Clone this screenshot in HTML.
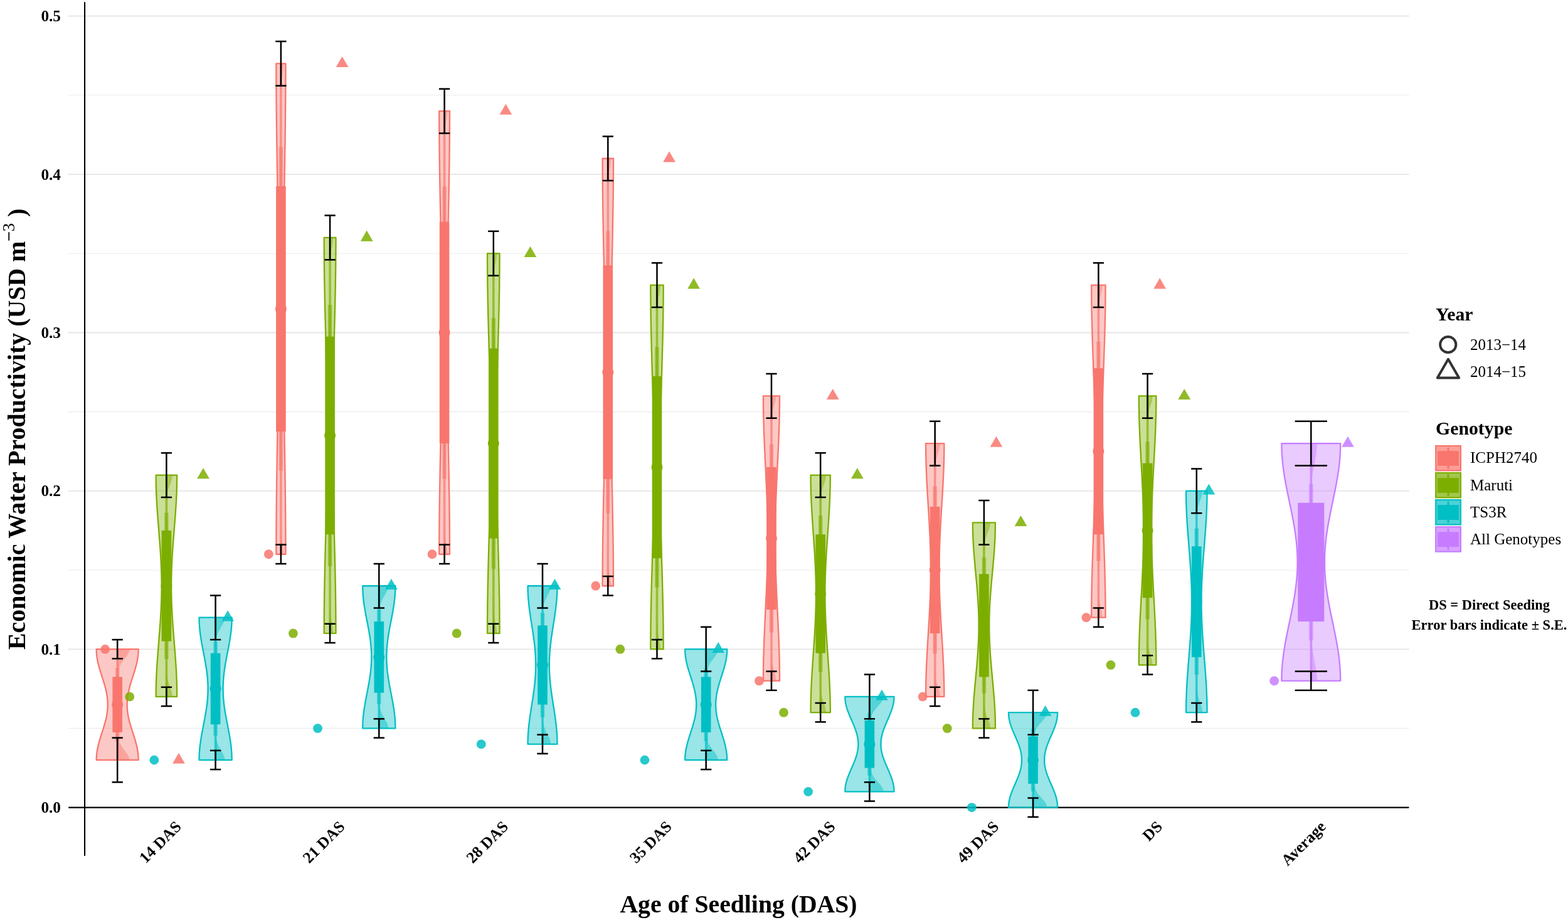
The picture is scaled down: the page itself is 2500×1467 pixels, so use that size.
<!DOCTYPE html>
<html><head><meta charset="utf-8"><title>Economic Water Productivity</title>
<style>html,body{margin:0;padding:0;background:#fff;overflow:hidden}svg{display:block}</style>
</head><body>
<svg width="2500" height="1467" viewBox="0 0 2500 1467">
<rect x="0" y="0" width="2500" height="1467" fill="#FFFFFF"/>
<line x1="109.0" x2="2246.7" y1="1161.4" y2="1161.4" stroke="#EBEBEB" stroke-width="1.1"/>
<line x1="109.0" x2="2246.7" y1="909" y2="909" stroke="#EBEBEB" stroke-width="1.1"/>
<line x1="109.0" x2="2246.7" y1="656.6" y2="656.6" stroke="#EBEBEB" stroke-width="1.1"/>
<line x1="109.0" x2="2246.7" y1="404.2" y2="404.2" stroke="#EBEBEB" stroke-width="1.1"/>
<line x1="109.0" x2="2246.7" y1="151.8" y2="151.8" stroke="#EBEBEB" stroke-width="1.1"/>
<line x1="109.0" x2="2246.7" y1="1035.2" y2="1035.2" stroke="#E8E8E8" stroke-width="2.1"/>
<line x1="109.0" x2="2246.7" y1="782.8" y2="782.8" stroke="#E8E8E8" stroke-width="2.1"/>
<line x1="109.0" x2="2246.7" y1="530.4" y2="530.4" stroke="#E8E8E8" stroke-width="2.1"/>
<line x1="109.0" x2="2246.7" y1="278" y2="278" stroke="#E8E8E8" stroke-width="2.1"/>
<line x1="109.0" x2="2246.7" y1="25.6" y2="25.6" stroke="#E8E8E8" stroke-width="2.1"/>
<line x1="110.0" x2="2245.7" y1="1287.6" y2="1287.6" stroke="#000" stroke-width="2.1" stroke-linecap="round"/>
<line x1="135.05" x2="135.05" y1="4" y2="1364" stroke="#000" stroke-width="2.1" stroke-linecap="round"/>
<path d="M220.7,1211.88 L220.67,1208.94 L220.53,1205.99 L220.29,1203.05 L219.95,1200.1 L219.52,1197.16 L219,1194.21 L218.39,1191.27 L217.72,1188.32 L216.97,1185.38 L216.17,1182.43 L215.31,1179.49 L214.42,1176.54 L213.5,1173.6 L212.56,1170.65 L211.61,1167.71 L210.67,1164.77 L209.74,1161.82 L208.83,1158.88 L207.95,1155.93 L207.11,1152.99 L206.33,1150.04 L205.6,1147.1 L204.94,1144.15 L204.36,1141.21 L203.85,1138.26 L203.43,1135.32 L203.1,1132.37 L202.86,1129.43 L202.72,1126.48 L202.67,1123.54 L202.72,1120.6 L202.86,1117.65 L203.1,1114.71 L203.43,1111.76 L203.85,1108.82 L204.36,1105.87 L204.94,1102.93 L205.6,1099.98 L206.33,1097.04 L207.11,1094.09 L207.95,1091.15 L208.83,1088.2 L209.74,1085.26 L210.67,1082.31 L211.61,1079.37 L212.56,1076.43 L213.5,1073.48 L214.42,1070.54 L215.31,1067.59 L216.17,1064.65 L216.97,1061.7 L217.72,1058.76 L218.39,1055.81 L219,1052.87 L219.52,1049.92 L219.95,1046.98 L220.29,1044.03 L220.53,1041.09 L220.67,1038.14 L220.7,1035.2 L153.7,1035.2 L153.73,1038.14 L153.87,1041.09 L154.11,1044.03 L154.45,1046.98 L154.88,1049.92 L155.4,1052.87 L156.01,1055.81 L156.68,1058.76 L157.43,1061.7 L158.23,1064.65 L159.09,1067.59 L159.98,1070.54 L160.9,1073.48 L161.84,1076.43 L162.79,1079.37 L163.73,1082.31 L164.66,1085.26 L165.57,1088.2 L166.45,1091.15 L167.29,1094.09 L168.07,1097.04 L168.8,1099.98 L169.46,1102.93 L170.04,1105.87 L170.55,1108.82 L170.97,1111.76 L171.3,1114.71 L171.54,1117.65 L171.68,1120.6 L171.73,1123.54 L171.68,1126.48 L171.54,1129.43 L171.3,1132.37 L170.97,1135.32 L170.55,1138.26 L170.04,1141.21 L169.46,1144.15 L168.8,1147.1 L168.07,1150.04 L167.29,1152.99 L166.45,1155.93 L165.57,1158.88 L164.66,1161.82 L163.73,1164.77 L162.79,1167.71 L161.84,1170.65 L160.9,1173.6 L159.98,1176.54 L159.09,1179.49 L158.23,1182.43 L157.43,1185.38 L156.68,1188.32 L156.01,1191.27 L155.4,1194.21 L154.88,1197.16 L154.45,1200.1 L154.11,1203.05 L153.87,1205.99 L153.73,1208.94 L153.7,1211.88 Z" fill="#F8766D" fill-opacity="0.4" stroke="#F8766D" stroke-width="2.3" stroke-linejoin="round"/>
<path d="M187.2,1211.88 L206.29,1211.88 L205.94,1208.94 L204.9,1205.99 L203.31,1203.05 L201.31,1200.1 L199.1,1197.16 L196.87,1194.21 L194.76,1191.27 L192.89,1188.32 L191.33,1185.38 L190.08,1182.43 L189.14,1179.49 L188.46,1176.54 L187.98,1173.6 L187.67,1170.65 L187.47,1167.71 L187.35,1164.77 L187.28,1161.82 L187.24,1158.88 L187.22,1155.93 L187.21,1152.99 L187.2,1150.04 L187.2,1147.1 L187.2,1144.15 L187.2,1141.21 L187.2,1138.26 L187.2,1135.32 L187.2,1132.37 L187.2,1129.43 L187.2,1126.48 L187.2,1123.54 L187.2,1120.6 L187.2,1117.65 L187.2,1114.71 L187.2,1111.76 L187.2,1108.82 L187.2,1105.87 L187.2,1102.93 L187.2,1099.98 L187.2,1097.04 L187.21,1094.09 L187.22,1091.15 L187.24,1088.2 L187.28,1085.26 L187.35,1082.31 L187.47,1079.37 L187.67,1076.43 L187.98,1073.48 L188.46,1070.54 L189.14,1067.59 L190.08,1064.65 L191.33,1061.7 L192.89,1058.76 L194.76,1055.81 L196.87,1052.87 L199.1,1049.92 L201.31,1046.98 L203.31,1044.03 L204.9,1041.09 L205.94,1038.14 L206.29,1035.2 L187.2,1035.2 Z" fill="#F8766D" fill-opacity="0.45"/>
<line x1="187.2" x2="187.2" y1="1036.2" y2="1210.88" stroke="#F8766D" stroke-opacity="0.7" stroke-width="3.6"/>
<line x1="187.2" x2="187.2" y1="1065.24" y2="1181.84" stroke="#F8766D" stroke-opacity="0.55" stroke-width="6.5"/>
<circle cx="187.2" cy="1123.54" r="9" fill="#F8766D"/>
<rect x="179.4" y="1079.37" width="15.6" height="88.34" fill="#F8766D"/>
<path d="M282.15,1110.92 L282.13,1105.03 L282.06,1099.14 L281.94,1093.25 L281.78,1087.36 L281.56,1081.47 L281.3,1075.58 L281,1069.69 L280.66,1063.81 L280.28,1057.92 L279.88,1052.03 L279.46,1046.14 L279.01,1040.25 L278.55,1034.36 L278.08,1028.47 L277.61,1022.58 L277.13,1016.69 L276.67,1010.8 L276.21,1004.91 L275.77,999.02 L275.36,993.13 L274.96,987.24 L274.6,981.35 L274.27,975.47 L273.98,969.58 L273.73,963.69 L273.52,957.8 L273.35,951.91 L273.23,946.02 L273.16,940.13 L273.13,934.24 L273.16,928.35 L273.23,922.46 L273.35,916.57 L273.52,910.68 L273.73,904.79 L273.98,898.9 L274.27,893.01 L274.6,887.13 L274.96,881.24 L275.36,875.35 L275.77,869.46 L276.21,863.57 L276.67,857.68 L277.13,851.79 L277.61,845.9 L278.08,840.01 L278.55,834.12 L279.01,828.23 L279.46,822.34 L279.88,816.45 L280.28,810.56 L280.66,804.67 L281,798.79 L281.3,792.9 L281.56,787.01 L281.78,781.12 L281.94,775.23 L282.06,769.34 L282.13,763.45 L282.15,757.56 L248.65,757.56 L248.67,763.45 L248.74,769.34 L248.86,775.23 L249.02,781.12 L249.24,787.01 L249.5,792.9 L249.8,798.79 L250.14,804.67 L250.52,810.56 L250.92,816.45 L251.34,822.34 L251.79,828.23 L252.25,834.12 L252.72,840.01 L253.19,845.9 L253.67,851.79 L254.13,857.68 L254.59,863.57 L255.03,869.46 L255.44,875.35 L255.84,881.24 L256.2,887.13 L256.53,893.01 L256.82,898.9 L257.07,904.79 L257.28,910.68 L257.45,916.57 L257.57,922.46 L257.64,928.35 L257.67,934.24 L257.64,940.13 L257.57,946.02 L257.45,951.91 L257.28,957.8 L257.07,963.69 L256.82,969.58 L256.53,975.47 L256.2,981.35 L255.84,987.24 L255.44,993.13 L255.03,999.02 L254.59,1004.91 L254.13,1010.8 L253.67,1016.69 L253.19,1022.58 L252.72,1028.47 L252.25,1034.36 L251.79,1040.25 L251.34,1046.14 L250.92,1052.03 L250.52,1057.92 L250.14,1063.81 L249.8,1069.69 L249.5,1075.58 L249.24,1081.47 L249.02,1087.36 L248.86,1093.25 L248.74,1099.14 L248.67,1105.03 L248.65,1110.92 Z" fill="#7CAE00" fill-opacity="0.4" stroke="#7CAE00" stroke-width="2.3" stroke-linejoin="round"/>
<path d="M265.4,1110.92 L274.95,1110.92 L274.25,1105.03 L272.46,1099.14 L270.23,1093.25 L268.25,1087.36 L266.84,1081.47 L266.03,1075.58 L265.63,1069.69 L265.48,1063.81 L265.42,1057.92 L265.4,1052.03 L265.4,1046.14 L265.4,1040.25 L265.4,1034.36 L265.4,1028.47 L265.4,1022.58 L265.4,1016.69 L265.4,1010.8 L265.4,1004.91 L265.4,999.02 L265.4,993.13 L265.4,987.24 L265.4,981.35 L265.4,975.47 L265.4,969.58 L265.4,963.69 L265.4,957.8 L265.4,951.91 L265.4,946.02 L265.4,940.13 L265.4,934.24 L265.4,928.35 L265.4,922.46 L265.4,916.57 L265.4,910.68 L265.4,904.79 L265.4,898.9 L265.4,893.01 L265.4,887.13 L265.4,881.24 L265.4,875.35 L265.4,869.46 L265.4,863.57 L265.4,857.68 L265.4,851.79 L265.4,845.9 L265.4,840.01 L265.4,834.12 L265.4,828.23 L265.4,822.34 L265.4,816.45 L265.42,810.56 L265.48,804.67 L265.63,798.79 L266.03,792.9 L266.84,787.01 L268.25,781.12 L270.23,775.23 L272.46,769.34 L274.25,763.45 L274.95,757.56 L265.4,757.56 Z" fill="#7CAE00" fill-opacity="0.45"/>
<line x1="265.4" x2="265.4" y1="758.56" y2="1109.92" stroke="#7CAE00" stroke-opacity="0.7" stroke-width="3.6"/>
<line x1="265.4" x2="265.4" y1="817.63" y2="1050.85" stroke="#7CAE00" stroke-opacity="0.55" stroke-width="6.5"/>
<circle cx="265.4" cy="934.24" r="9" fill="#7CAE00"/>
<rect x="257.6" y="845.9" width="15.6" height="176.68" fill="#7CAE00"/>
<path d="M369.66,1211.88 L369.63,1208.09 L369.52,1204.31 L369.34,1200.52 L369.07,1196.74 L368.74,1192.95 L368.33,1189.16 L367.86,1185.38 L367.33,1181.59 L366.75,1177.81 L366.13,1174.02 L365.47,1170.23 L364.77,1166.45 L364.06,1162.66 L363.33,1158.88 L362.59,1155.09 L361.85,1151.3 L361.13,1147.52 L360.42,1143.73 L359.74,1139.95 L359.09,1136.16 L358.48,1132.37 L357.91,1128.59 L357.4,1124.8 L356.95,1121.02 L356.55,1117.23 L356.23,1113.44 L355.97,1109.66 L355.78,1105.87 L355.67,1102.09 L355.63,1098.3 L355.67,1094.51 L355.78,1090.73 L355.97,1086.94 L356.23,1083.16 L356.55,1079.37 L356.95,1075.58 L357.4,1071.8 L357.91,1068.01 L358.48,1064.23 L359.09,1060.44 L359.74,1056.65 L360.42,1052.87 L361.13,1049.08 L361.85,1045.3 L362.59,1041.51 L363.33,1037.72 L364.06,1033.94 L364.77,1030.15 L365.47,1026.37 L366.13,1022.58 L366.75,1018.79 L367.33,1015.01 L367.86,1011.22 L368.33,1007.44 L368.74,1003.65 L369.07,999.86 L369.34,996.08 L369.52,992.29 L369.63,988.51 L369.66,984.72 L317.54,984.72 L317.57,988.51 L317.68,992.29 L317.86,996.08 L318.13,999.86 L318.46,1003.65 L318.87,1007.44 L319.34,1011.22 L319.87,1015.01 L320.45,1018.79 L321.07,1022.58 L321.73,1026.37 L322.43,1030.15 L323.14,1033.94 L323.87,1037.72 L324.61,1041.51 L325.35,1045.3 L326.07,1049.08 L326.78,1052.87 L327.46,1056.65 L328.11,1060.44 L328.72,1064.23 L329.29,1068.01 L329.8,1071.8 L330.25,1075.58 L330.65,1079.37 L330.97,1083.16 L331.23,1086.94 L331.42,1090.73 L331.53,1094.51 L331.57,1098.3 L331.53,1102.09 L331.42,1105.87 L331.23,1109.66 L330.97,1113.44 L330.65,1117.23 L330.25,1121.02 L329.8,1124.8 L329.29,1128.59 L328.72,1132.37 L328.11,1136.16 L327.46,1139.95 L326.78,1143.73 L326.07,1147.52 L325.35,1151.3 L324.61,1155.09 L323.87,1158.88 L323.14,1162.66 L322.43,1166.45 L321.73,1170.23 L321.07,1174.02 L320.45,1177.81 L319.87,1181.59 L319.34,1185.38 L318.87,1189.16 L318.46,1192.95 L318.13,1196.74 L317.86,1200.52 L317.68,1204.31 L317.57,1208.09 L317.54,1211.88 Z" fill="#00BFC4" fill-opacity="0.4" stroke="#00BFC4" stroke-width="2.3" stroke-linejoin="round"/>
<path d="M343.6,1211.88 L358.45,1211.88 L357.99,1208.09 L356.71,1204.31 L354.81,1200.52 L352.61,1196.74 L350.4,1192.95 L348.42,1189.16 L346.81,1185.38 L345.61,1181.59 L344.78,1177.81 L344.25,1174.02 L343.94,1170.23 L343.76,1166.45 L343.68,1162.66 L343.63,1158.88 L343.61,1155.09 L343.6,1151.3 L343.6,1147.52 L343.6,1143.73 L343.6,1139.95 L343.6,1136.16 L343.6,1132.37 L343.6,1128.59 L343.6,1124.8 L343.6,1121.02 L343.6,1117.23 L343.6,1113.44 L343.6,1109.66 L343.6,1105.87 L343.6,1102.09 L343.6,1098.3 L343.6,1094.51 L343.6,1090.73 L343.6,1086.94 L343.6,1083.16 L343.6,1079.37 L343.6,1075.58 L343.6,1071.8 L343.6,1068.01 L343.6,1064.23 L343.6,1060.44 L343.6,1056.65 L343.6,1052.87 L343.6,1049.08 L343.6,1045.3 L343.61,1041.51 L343.63,1037.72 L343.68,1033.94 L343.76,1030.15 L343.94,1026.37 L344.25,1022.58 L344.78,1018.79 L345.61,1015.01 L346.81,1011.22 L348.42,1007.44 L350.4,1003.65 L352.61,999.86 L354.81,996.08 L356.71,992.29 L357.99,988.51 L358.45,984.72 L343.6,984.72 Z" fill="#00BFC4" fill-opacity="0.45"/>
<line x1="343.6" x2="343.6" y1="985.72" y2="1210.88" stroke="#00BFC4" stroke-opacity="0.7" stroke-width="3.6"/>
<line x1="343.6" x2="343.6" y1="1023.34" y2="1173.26" stroke="#00BFC4" stroke-opacity="0.55" stroke-width="6.5"/>
<circle cx="343.6" cy="1098.3" r="9" fill="#00BFC4"/>
<rect x="335.8" y="1041.51" width="15.6" height="113.58" fill="#00BFC4"/>
<path d="M455.46,883.76 L455.46,870.72 L455.43,857.68 L455.37,844.64 L455.3,831.6 L455.2,818.56 L455.08,805.52 L454.94,792.48 L454.79,779.43 L454.62,766.39 L454.44,753.35 L454.25,740.31 L454.05,727.27 L453.84,714.23 L453.63,701.19 L453.41,688.15 L453.2,675.11 L452.99,662.07 L452.78,649.03 L452.59,635.99 L452.4,622.95 L452.22,609.91 L452.06,596.87 L451.91,583.82 L451.77,570.78 L451.66,557.74 L451.57,544.7 L451.49,531.66 L451.44,518.62 L451.4,505.58 L451.39,492.54 L451.4,479.5 L451.44,466.46 L451.49,453.42 L451.57,440.38 L451.66,427.34 L451.77,414.3 L451.91,401.26 L452.06,388.21 L452.22,375.17 L452.4,362.13 L452.59,349.09 L452.78,336.05 L452.99,323.01 L453.2,309.97 L453.41,296.93 L453.63,283.89 L453.84,270.85 L454.05,257.81 L454.25,244.77 L454.44,231.73 L454.62,218.69 L454.79,205.65 L454.94,192.6 L455.08,179.56 L455.2,166.52 L455.3,153.48 L455.37,140.44 L455.43,127.4 L455.46,114.36 L455.46,101.32 L440.34,101.32 L440.34,114.36 L440.37,127.4 L440.43,140.44 L440.5,153.48 L440.6,166.52 L440.72,179.56 L440.86,192.6 L441.01,205.65 L441.18,218.69 L441.36,231.73 L441.55,244.77 L441.75,257.81 L441.96,270.85 L442.17,283.89 L442.39,296.93 L442.6,309.97 L442.81,323.01 L443.02,336.05 L443.21,349.09 L443.4,362.13 L443.58,375.17 L443.74,388.21 L443.89,401.26 L444.03,414.3 L444.14,427.34 L444.23,440.38 L444.31,453.42 L444.36,466.46 L444.4,479.5 L444.41,492.54 L444.4,505.58 L444.36,518.62 L444.31,531.66 L444.23,544.7 L444.14,557.74 L444.03,570.78 L443.89,583.82 L443.74,596.87 L443.58,609.91 L443.4,622.95 L443.21,635.99 L443.02,649.03 L442.81,662.07 L442.6,675.11 L442.39,688.15 L442.17,701.19 L441.96,714.23 L441.75,727.27 L441.55,740.31 L441.36,753.35 L441.18,766.39 L441.01,779.43 L440.86,792.48 L440.72,805.52 L440.6,818.56 L440.5,831.6 L440.43,844.64 L440.37,857.68 L440.34,870.72 L440.34,883.76 Z" fill="#F8766D" fill-opacity="0.4" stroke="#F8766D" stroke-width="2.3" stroke-linejoin="round"/>
<path d="M447.9,883.76 L452.21,883.76 L450.88,870.72 L448.88,857.68 L448.05,844.64 L447.91,831.6 L447.9,818.56 L447.9,805.52 L447.9,792.48 L447.9,779.43 L447.9,766.39 L447.9,753.35 L447.9,740.31 L447.9,727.27 L447.9,714.23 L447.9,701.19 L447.9,688.15 L447.9,675.11 L447.9,662.07 L447.9,649.03 L447.9,635.99 L447.9,622.95 L447.9,609.91 L447.9,596.87 L447.9,583.82 L447.9,570.78 L447.9,557.74 L447.9,544.7 L447.9,531.66 L447.9,518.62 L447.9,505.58 L447.9,492.54 L447.9,479.5 L447.9,466.46 L447.9,453.42 L447.9,440.38 L447.9,427.34 L447.9,414.3 L447.9,401.26 L447.9,388.21 L447.9,375.17 L447.9,362.13 L447.9,349.09 L447.9,336.05 L447.9,323.01 L447.9,309.97 L447.9,296.93 L447.9,283.89 L447.9,270.85 L447.9,257.81 L447.9,244.77 L447.9,231.73 L447.9,218.69 L447.9,205.65 L447.9,192.6 L447.9,179.56 L447.9,166.52 L447.91,153.48 L448.05,140.44 L448.88,127.4 L450.88,114.36 L452.21,101.32 L447.9,101.32 Z" fill="#F8766D" fill-opacity="0.45"/>
<line x1="447.9" x2="447.9" y1="102.32" y2="882.76" stroke="#F8766D" stroke-opacity="0.7" stroke-width="3.6"/>
<line x1="447.9" x2="447.9" y1="234.33" y2="750.75" stroke="#F8766D" stroke-opacity="0.55" stroke-width="6.5"/>
<circle cx="447.9" cy="492.54" r="9" fill="#F8766D"/>
<rect x="440.1" y="296.93" width="15.6" height="391.22" fill="#F8766D"/>
<path d="M535.48,1009.96 L535.47,999.44 L535.43,988.93 L535.36,978.41 L535.27,967.89 L535.15,957.38 L535,946.86 L534.83,936.34 L534.64,925.83 L534.44,915.31 L534.21,904.79 L533.97,894.28 L533.72,883.76 L533.46,873.24 L533.2,862.73 L532.94,852.21 L532.67,841.69 L532.41,831.18 L532.16,820.66 L531.91,810.14 L531.68,799.63 L531.46,789.11 L531.25,778.59 L531.07,768.08 L530.9,757.56 L530.76,747.04 L530.65,736.53 L530.55,726.01 L530.49,715.49 L530.44,704.98 L530.43,694.46 L530.44,683.94 L530.49,673.43 L530.55,662.91 L530.65,652.39 L530.76,641.88 L530.9,631.36 L531.07,620.84 L531.25,610.33 L531.46,599.81 L531.68,589.29 L531.91,578.78 L532.16,568.26 L532.41,557.74 L532.67,547.23 L532.94,536.71 L533.2,526.19 L533.46,515.68 L533.72,505.16 L533.97,494.64 L534.21,484.13 L534.44,473.61 L534.64,463.09 L534.83,452.58 L535,442.06 L535.15,431.54 L535.27,421.03 L535.36,410.51 L535.43,399.99 L535.47,389.48 L535.48,378.96 L516.72,378.96 L516.73,389.48 L516.77,399.99 L516.84,410.51 L516.93,421.03 L517.05,431.54 L517.2,442.06 L517.37,452.58 L517.56,463.09 L517.76,473.61 L517.99,484.13 L518.23,494.64 L518.48,505.16 L518.74,515.68 L519,526.19 L519.26,536.71 L519.53,547.23 L519.79,557.74 L520.04,568.26 L520.29,578.78 L520.52,589.29 L520.74,599.81 L520.95,610.33 L521.13,620.84 L521.3,631.36 L521.44,641.88 L521.55,652.39 L521.65,662.91 L521.71,673.43 L521.76,683.94 L521.77,694.46 L521.76,704.98 L521.71,715.49 L521.65,726.01 L521.55,736.53 L521.44,747.04 L521.3,757.56 L521.13,768.08 L520.95,778.59 L520.74,789.11 L520.52,799.63 L520.29,810.14 L520.04,820.66 L519.79,831.18 L519.53,841.69 L519.26,852.21 L519,862.73 L518.74,873.24 L518.48,883.76 L518.23,894.28 L517.99,904.79 L517.76,915.31 L517.56,925.83 L517.37,936.34 L517.2,946.86 L517.05,957.38 L516.93,967.89 L516.84,978.41 L516.77,988.93 L516.73,999.44 L516.72,1009.96 Z" fill="#7CAE00" fill-opacity="0.4" stroke="#7CAE00" stroke-width="2.3" stroke-linejoin="round"/>
<path d="M526.1,1009.96 L531.45,1009.96 L530.3,999.44 L528.14,988.93 L526.71,978.41 L526.21,967.89 L526.11,957.38 L526.1,946.86 L526.1,936.34 L526.1,925.83 L526.1,915.31 L526.1,904.79 L526.1,894.28 L526.1,883.76 L526.1,873.24 L526.1,862.73 L526.1,852.21 L526.1,841.69 L526.1,831.18 L526.1,820.66 L526.1,810.14 L526.1,799.63 L526.1,789.11 L526.1,778.59 L526.1,768.08 L526.1,757.56 L526.1,747.04 L526.1,736.53 L526.1,726.01 L526.1,715.49 L526.1,704.98 L526.1,694.46 L526.1,683.94 L526.1,673.43 L526.1,662.91 L526.1,652.39 L526.1,641.88 L526.1,631.36 L526.1,620.84 L526.1,610.33 L526.1,599.81 L526.1,589.29 L526.1,578.78 L526.1,568.26 L526.1,557.74 L526.1,547.23 L526.1,536.71 L526.1,526.19 L526.1,515.68 L526.1,505.16 L526.1,494.64 L526.1,484.13 L526.1,473.61 L526.1,463.09 L526.1,452.58 L526.1,442.06 L526.11,431.54 L526.21,421.03 L526.71,410.51 L528.14,399.99 L530.3,389.48 L531.45,378.96 L526.1,378.96 Z" fill="#7CAE00" fill-opacity="0.45"/>
<line x1="526.1" x2="526.1" y1="379.96" y2="1008.96" stroke="#7CAE00" stroke-opacity="0.7" stroke-width="3.6"/>
<line x1="526.1" x2="526.1" y1="486.23" y2="902.69" stroke="#7CAE00" stroke-opacity="0.55" stroke-width="6.5"/>
<circle cx="526.1" cy="694.46" r="9" fill="#7CAE00"/>
<rect x="518.3" y="536.71" width="15.6" height="315.5" fill="#7CAE00"/>
<path d="M630.36,1161.4 L630.33,1157.61 L630.22,1153.83 L630.04,1150.04 L629.77,1146.26 L629.44,1142.47 L629.03,1138.68 L628.56,1134.9 L628.03,1131.11 L627.45,1127.33 L626.83,1123.54 L626.17,1119.75 L625.47,1115.97 L624.76,1112.18 L624.03,1108.4 L623.29,1104.61 L622.55,1100.82 L621.83,1097.04 L621.12,1093.25 L620.44,1089.47 L619.79,1085.68 L619.18,1081.89 L618.61,1078.11 L618.1,1074.32 L617.65,1070.54 L617.25,1066.75 L616.93,1062.96 L616.67,1059.18 L616.48,1055.39 L616.37,1051.61 L616.33,1047.82 L616.37,1044.03 L616.48,1040.25 L616.67,1036.46 L616.93,1032.68 L617.25,1028.89 L617.65,1025.1 L618.1,1021.32 L618.61,1017.53 L619.18,1013.75 L619.79,1009.96 L620.44,1006.17 L621.12,1002.39 L621.83,998.6 L622.55,994.82 L623.29,991.03 L624.03,987.24 L624.76,983.46 L625.47,979.67 L626.17,975.89 L626.83,972.1 L627.45,968.31 L628.03,964.53 L628.56,960.74 L629.03,956.96 L629.44,953.17 L629.77,949.38 L630.04,945.6 L630.22,941.81 L630.33,938.03 L630.36,934.24 L578.24,934.24 L578.27,938.03 L578.38,941.81 L578.56,945.6 L578.83,949.38 L579.16,953.17 L579.57,956.96 L580.04,960.74 L580.57,964.53 L581.15,968.31 L581.77,972.1 L582.43,975.89 L583.13,979.67 L583.84,983.46 L584.57,987.24 L585.31,991.03 L586.05,994.82 L586.77,998.6 L587.48,1002.39 L588.16,1006.17 L588.81,1009.96 L589.42,1013.75 L589.99,1017.53 L590.5,1021.32 L590.95,1025.1 L591.35,1028.89 L591.67,1032.68 L591.93,1036.46 L592.12,1040.25 L592.23,1044.03 L592.27,1047.82 L592.23,1051.61 L592.12,1055.39 L591.93,1059.18 L591.67,1062.96 L591.35,1066.75 L590.95,1070.54 L590.5,1074.32 L589.99,1078.11 L589.42,1081.89 L588.81,1085.68 L588.16,1089.47 L587.48,1093.25 L586.77,1097.04 L586.05,1100.82 L585.31,1104.61 L584.57,1108.4 L583.84,1112.18 L583.13,1115.97 L582.43,1119.75 L581.77,1123.54 L581.15,1127.33 L580.57,1131.11 L580.04,1134.9 L579.57,1138.68 L579.16,1142.47 L578.83,1146.26 L578.56,1150.04 L578.38,1153.83 L578.27,1157.61 L578.24,1161.4 Z" fill="#00BFC4" fill-opacity="0.4" stroke="#00BFC4" stroke-width="2.3" stroke-linejoin="round"/>
<path d="M604.3,1161.4 L619.15,1161.4 L618.69,1157.61 L617.41,1153.83 L615.51,1150.04 L613.31,1146.26 L611.1,1142.47 L609.12,1138.68 L607.51,1134.9 L606.31,1131.11 L605.48,1127.33 L604.95,1123.54 L604.64,1119.75 L604.46,1115.97 L604.38,1112.18 L604.33,1108.4 L604.31,1104.61 L604.3,1100.82 L604.3,1097.04 L604.3,1093.25 L604.3,1089.47 L604.3,1085.68 L604.3,1081.89 L604.3,1078.11 L604.3,1074.32 L604.3,1070.54 L604.3,1066.75 L604.3,1062.96 L604.3,1059.18 L604.3,1055.39 L604.3,1051.61 L604.3,1047.82 L604.3,1044.03 L604.3,1040.25 L604.3,1036.46 L604.3,1032.68 L604.3,1028.89 L604.3,1025.1 L604.3,1021.32 L604.3,1017.53 L604.3,1013.75 L604.3,1009.96 L604.3,1006.17 L604.3,1002.39 L604.3,998.6 L604.3,994.82 L604.31,991.03 L604.33,987.24 L604.38,983.46 L604.46,979.67 L604.64,975.89 L604.95,972.1 L605.48,968.31 L606.31,964.53 L607.51,960.74 L609.12,956.96 L611.1,953.17 L613.31,949.38 L615.51,945.6 L617.41,941.81 L618.69,938.03 L619.15,934.24 L604.3,934.24 Z" fill="#00BFC4" fill-opacity="0.45"/>
<line x1="604.3" x2="604.3" y1="935.24" y2="1160.4" stroke="#00BFC4" stroke-opacity="0.7" stroke-width="3.6"/>
<line x1="604.3" x2="604.3" y1="972.86" y2="1122.78" stroke="#00BFC4" stroke-opacity="0.55" stroke-width="6.5"/>
<circle cx="604.3" cy="1047.82" r="9" fill="#00BFC4"/>
<rect x="596.5" y="991.03" width="15.6" height="113.58" fill="#00BFC4"/>
<path d="M716.97,883.76 L716.97,871.98 L716.93,860.2 L716.87,848.42 L716.79,836.65 L716.68,824.87 L716.55,813.09 L716.4,801.31 L716.23,789.53 L716.04,777.75 L715.84,765.97 L715.63,754.19 L715.41,742.42 L715.18,730.64 L714.94,718.86 L714.7,707.08 L714.47,695.3 L714.23,683.52 L714.01,671.74 L713.79,659.97 L713.58,648.19 L713.38,636.41 L713.2,624.63 L713.04,612.85 L712.89,601.07 L712.76,589.29 L712.66,577.51 L712.58,565.74 L712.52,553.96 L712.48,542.18 L712.47,530.4 L712.48,518.62 L712.52,506.84 L712.58,495.06 L712.66,483.29 L712.76,471.51 L712.89,459.73 L713.04,447.95 L713.2,436.17 L713.38,424.39 L713.58,412.61 L713.79,400.83 L714.01,389.06 L714.23,377.28 L714.47,365.5 L714.7,353.72 L714.94,341.94 L715.18,330.16 L715.41,318.38 L715.63,306.61 L715.84,294.83 L716.04,283.05 L716.23,271.27 L716.4,259.49 L716.55,247.71 L716.68,235.93 L716.79,224.15 L716.87,212.38 L716.93,200.6 L716.97,188.82 L716.97,177.04 L700.22,177.04 L700.23,188.82 L700.27,200.6 L700.33,212.38 L700.41,224.15 L700.52,235.93 L700.65,247.71 L700.8,259.49 L700.97,271.27 L701.16,283.05 L701.36,294.83 L701.57,306.61 L701.79,318.38 L702.02,330.16 L702.26,341.94 L702.5,353.72 L702.73,365.5 L702.97,377.28 L703.19,389.06 L703.41,400.83 L703.62,412.61 L703.82,424.39 L704,436.17 L704.16,447.95 L704.31,459.73 L704.44,471.51 L704.54,483.29 L704.62,495.06 L704.68,506.84 L704.72,518.62 L704.73,530.4 L704.72,542.18 L704.68,553.96 L704.62,565.74 L704.54,577.51 L704.44,589.29 L704.31,601.07 L704.16,612.85 L704,624.63 L703.82,636.41 L703.62,648.19 L703.41,659.97 L703.19,671.74 L702.97,683.52 L702.73,695.3 L702.5,707.08 L702.26,718.86 L702.02,730.64 L701.79,742.42 L701.57,754.19 L701.36,765.97 L701.16,777.75 L700.97,789.53 L700.8,801.31 L700.65,813.09 L700.52,824.87 L700.41,836.65 L700.33,848.42 L700.27,860.2 L700.23,871.98 L700.22,883.76 Z" fill="#F8766D" fill-opacity="0.4" stroke="#F8766D" stroke-width="2.3" stroke-linejoin="round"/>
<path d="M708.6,883.76 L713.37,883.76 L712.13,871.98 L710.02,860.2 L708.91,848.42 L708.64,836.65 L708.6,824.87 L708.6,813.09 L708.6,801.31 L708.6,789.53 L708.6,777.75 L708.6,765.97 L708.6,754.19 L708.6,742.42 L708.6,730.64 L708.6,718.86 L708.6,707.08 L708.6,695.3 L708.6,683.52 L708.6,671.74 L708.6,659.97 L708.6,648.19 L708.6,636.41 L708.6,624.63 L708.6,612.85 L708.6,601.07 L708.6,589.29 L708.6,577.51 L708.6,565.74 L708.6,553.96 L708.6,542.18 L708.6,530.4 L708.6,518.62 L708.6,506.84 L708.6,495.06 L708.6,483.29 L708.6,471.51 L708.6,459.73 L708.6,447.95 L708.6,436.17 L708.6,424.39 L708.6,412.61 L708.6,400.83 L708.6,389.06 L708.6,377.28 L708.6,365.5 L708.6,353.72 L708.6,341.94 L708.6,330.16 L708.6,318.38 L708.6,306.61 L708.6,294.83 L708.6,283.05 L708.6,271.27 L708.6,259.49 L708.6,247.71 L708.6,235.93 L708.64,224.15 L708.91,212.38 L710.02,200.6 L712.13,188.82 L713.37,177.04 L708.6,177.04 Z" fill="#F8766D" fill-opacity="0.45"/>
<line x1="708.6" x2="708.6" y1="178.04" y2="882.76" stroke="#F8766D" stroke-opacity="0.7" stroke-width="3.6"/>
<line x1="708.6" x2="708.6" y1="297.18" y2="763.62" stroke="#F8766D" stroke-opacity="0.55" stroke-width="6.5"/>
<circle cx="708.6" cy="530.4" r="9" fill="#F8766D"/>
<rect x="700.8" y="353.72" width="15.6" height="353.36" fill="#F8766D"/>
<path d="M796.57,1009.96 L796.56,999.86 L796.52,989.77 L796.45,979.67 L796.35,969.58 L796.23,959.48 L796.07,949.38 L795.9,939.29 L795.7,929.19 L795.48,919.1 L795.25,909 L795,898.9 L794.74,888.81 L794.47,878.71 L794.2,868.62 L793.92,858.52 L793.64,848.42 L793.37,838.33 L793.11,828.23 L792.85,818.14 L792.61,808.04 L792.38,797.94 L792.17,787.85 L791.98,777.75 L791.8,767.66 L791.66,757.56 L791.53,747.46 L791.44,737.37 L791.37,727.27 L791.33,717.18 L791.31,707.08 L791.33,696.98 L791.37,686.89 L791.44,676.79 L791.53,666.7 L791.66,656.6 L791.8,646.5 L791.98,636.41 L792.17,626.31 L792.38,616.22 L792.61,606.12 L792.85,596.02 L793.11,585.93 L793.37,575.83 L793.64,565.74 L793.92,555.64 L794.2,545.54 L794.47,535.45 L794.74,525.35 L795,515.26 L795.25,505.16 L795.48,495.06 L795.7,484.97 L795.9,474.87 L796.07,464.78 L796.23,454.68 L796.35,444.58 L796.45,434.49 L796.52,424.39 L796.56,414.3 L796.57,404.2 L777.03,404.2 L777.04,414.3 L777.08,424.39 L777.15,434.49 L777.25,444.58 L777.37,454.68 L777.53,464.78 L777.7,474.87 L777.9,484.97 L778.12,495.06 L778.35,505.16 L778.6,515.26 L778.86,525.35 L779.13,535.45 L779.4,545.54 L779.68,555.64 L779.96,565.74 L780.23,575.83 L780.49,585.93 L780.75,596.02 L780.99,606.12 L781.22,616.22 L781.43,626.31 L781.62,636.41 L781.8,646.5 L781.94,656.6 L782.07,666.7 L782.16,676.79 L782.23,686.89 L782.27,696.98 L782.29,707.08 L782.27,717.18 L782.23,727.27 L782.16,737.37 L782.07,747.46 L781.94,757.56 L781.8,767.66 L781.62,777.75 L781.43,787.85 L781.22,797.94 L780.99,808.04 L780.75,818.14 L780.49,828.23 L780.23,838.33 L779.96,848.42 L779.68,858.52 L779.4,868.62 L779.13,878.71 L778.86,888.81 L778.6,898.9 L778.35,909 L778.12,919.1 L777.9,929.19 L777.7,939.29 L777.53,949.38 L777.37,959.48 L777.25,969.58 L777.15,979.67 L777.08,989.77 L777.04,999.86 L777.03,1009.96 Z" fill="#7CAE00" fill-opacity="0.4" stroke="#7CAE00" stroke-width="2.3" stroke-linejoin="round"/>
<path d="M786.8,1009.96 L792.37,1009.96 L791.26,999.86 L789.09,989.77 L787.55,979.67 L786.96,969.58 L786.82,959.48 L786.8,949.38 L786.8,939.29 L786.8,929.19 L786.8,919.1 L786.8,909 L786.8,898.9 L786.8,888.81 L786.8,878.71 L786.8,868.62 L786.8,858.52 L786.8,848.42 L786.8,838.33 L786.8,828.23 L786.8,818.14 L786.8,808.04 L786.8,797.94 L786.8,787.85 L786.8,777.75 L786.8,767.66 L786.8,757.56 L786.8,747.46 L786.8,737.37 L786.8,727.27 L786.8,717.18 L786.8,707.08 L786.8,696.98 L786.8,686.89 L786.8,676.79 L786.8,666.7 L786.8,656.6 L786.8,646.5 L786.8,636.41 L786.8,626.31 L786.8,616.22 L786.8,606.12 L786.8,596.02 L786.8,585.93 L786.8,575.83 L786.8,565.74 L786.8,555.64 L786.8,545.54 L786.8,535.45 L786.8,525.35 L786.8,515.26 L786.8,505.16 L786.8,495.06 L786.8,484.97 L786.8,474.87 L786.8,464.78 L786.82,454.68 L786.96,444.58 L787.55,434.49 L789.09,424.39 L791.26,414.3 L792.37,404.2 L786.8,404.2 Z" fill="#7CAE00" fill-opacity="0.45"/>
<line x1="786.8" x2="786.8" y1="405.2" y2="1008.96" stroke="#7CAE00" stroke-opacity="0.7" stroke-width="3.6"/>
<line x1="786.8" x2="786.8" y1="507.18" y2="906.98" stroke="#7CAE00" stroke-opacity="0.55" stroke-width="6.5"/>
<circle cx="786.8" cy="707.08" r="9" fill="#7CAE00"/>
<rect x="779" y="555.64" width="15.6" height="302.88" fill="#7CAE00"/>
<path d="M888.45,1186.64 L888.43,1182.43 L888.33,1178.23 L888.16,1174.02 L887.93,1169.81 L887.62,1165.61 L887.26,1161.4 L886.84,1157.19 L886.36,1152.99 L885.84,1148.78 L885.28,1144.57 L884.68,1140.37 L884.06,1136.16 L883.41,1131.95 L882.75,1127.75 L882.09,1123.54 L881.43,1119.33 L880.77,1115.13 L880.14,1110.92 L879.52,1106.71 L878.94,1102.51 L878.39,1098.3 L877.88,1094.09 L877.42,1089.89 L877.01,1085.68 L876.66,1081.47 L876.36,1077.27 L876.13,1073.06 L875.96,1068.85 L875.86,1064.65 L875.83,1060.44 L875.86,1056.23 L875.96,1052.03 L876.13,1047.82 L876.36,1043.61 L876.66,1039.41 L877.01,1035.2 L877.42,1030.99 L877.88,1026.79 L878.39,1022.58 L878.94,1018.37 L879.52,1014.17 L880.14,1009.96 L880.77,1005.75 L881.43,1001.55 L882.09,997.34 L882.75,993.13 L883.41,988.93 L884.06,984.72 L884.68,980.51 L885.28,976.31 L885.84,972.1 L886.36,967.89 L886.84,963.69 L887.26,959.48 L887.62,955.27 L887.93,951.07 L888.16,946.86 L888.33,942.65 L888.43,938.45 L888.45,934.24 L841.55,934.24 L841.57,938.45 L841.67,942.65 L841.84,946.86 L842.07,951.07 L842.38,955.27 L842.74,959.48 L843.16,963.69 L843.64,967.89 L844.16,972.1 L844.72,976.31 L845.32,980.51 L845.94,984.72 L846.59,988.93 L847.25,993.13 L847.91,997.34 L848.57,1001.55 L849.23,1005.75 L849.86,1009.96 L850.48,1014.17 L851.06,1018.37 L851.61,1022.58 L852.12,1026.79 L852.58,1030.99 L852.99,1035.2 L853.34,1039.41 L853.64,1043.61 L853.87,1047.82 L854.04,1052.03 L854.14,1056.23 L854.17,1060.44 L854.14,1064.65 L854.04,1068.85 L853.87,1073.06 L853.64,1077.27 L853.34,1081.47 L852.99,1085.68 L852.58,1089.89 L852.12,1094.09 L851.61,1098.3 L851.06,1102.51 L850.48,1106.71 L849.86,1110.92 L849.23,1115.13 L848.57,1119.33 L847.91,1123.54 L847.25,1127.75 L846.59,1131.95 L845.94,1136.16 L845.32,1140.37 L844.72,1144.57 L844.16,1148.78 L843.64,1152.99 L843.16,1157.19 L842.74,1161.4 L842.38,1165.61 L842.07,1169.81 L841.84,1174.02 L841.67,1178.23 L841.57,1182.43 L841.55,1186.64 Z" fill="#00BFC4" fill-opacity="0.4" stroke="#00BFC4" stroke-width="2.3" stroke-linejoin="round"/>
<path d="M865,1186.64 L878.37,1186.64 L877.86,1182.43 L876.46,1178.23 L874.45,1174.02 L872.21,1169.81 L870.09,1165.61 L868.33,1161.4 L867.02,1157.19 L866.13,1152.99 L865.59,1148.78 L865.28,1144.57 L865.13,1140.37 L865.05,1136.16 L865.02,1131.95 L865.01,1127.75 L865,1123.54 L865,1119.33 L865,1115.13 L865,1110.92 L865,1106.71 L865,1102.51 L865,1098.3 L865,1094.09 L865,1089.89 L865,1085.68 L865,1081.47 L865,1077.27 L865,1073.06 L865,1068.85 L865,1064.65 L865,1060.44 L865,1056.23 L865,1052.03 L865,1047.82 L865,1043.61 L865,1039.41 L865,1035.2 L865,1030.99 L865,1026.79 L865,1022.58 L865,1018.37 L865,1014.17 L865,1009.96 L865,1005.75 L865,1001.55 L865,997.34 L865.01,993.13 L865.02,988.93 L865.05,984.72 L865.13,980.51 L865.28,976.31 L865.59,972.1 L866.13,967.89 L867.02,963.69 L868.33,959.48 L870.09,955.27 L872.21,951.07 L874.45,946.86 L876.46,942.65 L877.86,938.45 L878.37,934.24 L865,934.24 Z" fill="#00BFC4" fill-opacity="0.45"/>
<line x1="865" x2="865" y1="935.24" y2="1185.64" stroke="#00BFC4" stroke-opacity="0.7" stroke-width="3.6"/>
<line x1="865" x2="865" y1="977.15" y2="1143.73" stroke="#00BFC4" stroke-opacity="0.55" stroke-width="6.5"/>
<circle cx="865" cy="1060.44" r="9" fill="#00BFC4"/>
<rect x="857.2" y="997.34" width="15.6" height="126.2" fill="#00BFC4"/>
<path d="M977.99,934.24 L977.98,922.88 L977.94,911.52 L977.88,900.17 L977.79,888.81 L977.68,877.45 L977.54,866.09 L977.39,854.73 L977.21,843.38 L977.02,832.02 L976.81,820.66 L976.59,809.3 L976.36,797.94 L976.12,786.59 L975.88,775.23 L975.63,763.87 L975.38,752.51 L975.14,741.15 L974.91,729.8 L974.68,718.44 L974.46,707.08 L974.26,695.72 L974.07,684.36 L973.9,673.01 L973.75,661.65 L973.62,650.29 L973.51,638.93 L973.42,627.57 L973.36,616.22 L973.32,604.86 L973.31,593.5 L973.32,582.14 L973.36,570.78 L973.42,559.43 L973.51,548.07 L973.62,536.71 L973.75,525.35 L973.9,513.99 L974.07,502.64 L974.26,491.28 L974.46,479.92 L974.68,468.56 L974.91,457.2 L975.14,445.85 L975.38,434.49 L975.63,423.13 L975.88,411.77 L976.12,400.41 L976.36,389.06 L976.59,377.7 L976.81,366.34 L977.02,354.98 L977.21,343.62 L977.39,332.27 L977.54,320.91 L977.68,309.55 L977.79,298.19 L977.88,286.83 L977.94,275.48 L977.98,264.12 L977.99,252.76 L960.61,252.76 L960.62,264.12 L960.66,275.48 L960.72,286.83 L960.81,298.19 L960.92,309.55 L961.06,320.91 L961.21,332.27 L961.39,343.62 L961.58,354.98 L961.79,366.34 L962.01,377.7 L962.24,389.06 L962.48,400.41 L962.72,411.77 L962.97,423.13 L963.22,434.49 L963.46,445.85 L963.69,457.2 L963.92,468.56 L964.14,479.92 L964.34,491.28 L964.53,502.64 L964.7,513.99 L964.85,525.35 L964.98,536.71 L965.09,548.07 L965.18,559.43 L965.24,570.78 L965.28,582.14 L965.29,593.5 L965.28,604.86 L965.24,616.22 L965.18,627.57 L965.09,638.93 L964.98,650.29 L964.85,661.65 L964.7,673.01 L964.53,684.36 L964.34,695.72 L964.14,707.08 L963.92,718.44 L963.69,729.8 L963.46,741.15 L963.22,752.51 L962.97,763.87 L962.72,775.23 L962.48,786.59 L962.24,797.94 L962.01,809.3 L961.79,820.66 L961.58,832.02 L961.39,843.38 L961.21,854.73 L961.06,866.09 L960.92,877.45 L960.81,888.81 L960.72,900.17 L960.66,911.52 L960.62,922.88 L960.61,934.24 Z" fill="#F8766D" fill-opacity="0.4" stroke="#F8766D" stroke-width="2.3" stroke-linejoin="round"/>
<path d="M969.3,934.24 L974.25,934.24 L973.04,922.88 L970.91,911.52 L969.69,900.17 L969.35,888.81 L969.3,877.45 L969.3,866.09 L969.3,854.73 L969.3,843.38 L969.3,832.02 L969.3,820.66 L969.3,809.3 L969.3,797.94 L969.3,786.59 L969.3,775.23 L969.3,763.87 L969.3,752.51 L969.3,741.15 L969.3,729.8 L969.3,718.44 L969.3,707.08 L969.3,695.72 L969.3,684.36 L969.3,673.01 L969.3,661.65 L969.3,650.29 L969.3,638.93 L969.3,627.57 L969.3,616.22 L969.3,604.86 L969.3,593.5 L969.3,582.14 L969.3,570.78 L969.3,559.43 L969.3,548.07 L969.3,536.71 L969.3,525.35 L969.3,513.99 L969.3,502.64 L969.3,491.28 L969.3,479.92 L969.3,468.56 L969.3,457.2 L969.3,445.85 L969.3,434.49 L969.3,423.13 L969.3,411.77 L969.3,400.41 L969.3,389.06 L969.3,377.7 L969.3,366.34 L969.3,354.98 L969.3,343.62 L969.3,332.27 L969.3,320.91 L969.3,309.55 L969.35,298.19 L969.69,286.83 L970.91,275.48 L973.04,264.12 L974.25,252.76 L969.3,252.76 Z" fill="#F8766D" fill-opacity="0.45"/>
<line x1="969.3" x2="969.3" y1="253.76" y2="933.24" stroke="#F8766D" stroke-opacity="0.7" stroke-width="3.6"/>
<line x1="969.3" x2="969.3" y1="368.61" y2="818.39" stroke="#F8766D" stroke-opacity="0.55" stroke-width="6.5"/>
<circle cx="969.3" cy="593.5" r="9" fill="#F8766D"/>
<rect x="961.5" y="423.13" width="15.6" height="340.74" fill="#F8766D"/>
<path d="M1057.7,1035.2 L1057.69,1025.52 L1057.64,1015.85 L1057.57,1006.17 L1057.47,996.5 L1057.34,986.82 L1057.18,977.15 L1056.99,967.47 L1056.79,957.8 L1056.56,948.12 L1056.32,938.45 L1056.06,928.77 L1055.78,919.1 L1055.5,909.42 L1055.22,899.75 L1054.93,890.07 L1054.64,880.39 L1054.36,870.72 L1054.08,861.04 L1053.81,851.37 L1053.56,841.69 L1053.32,832.02 L1053.1,822.34 L1052.9,812.67 L1052.72,802.99 L1052.57,793.32 L1052.44,783.64 L1052.34,773.97 L1052.27,764.29 L1052.22,754.62 L1052.21,744.94 L1052.22,735.26 L1052.27,725.59 L1052.34,715.91 L1052.44,706.24 L1052.57,696.56 L1052.72,686.89 L1052.9,677.21 L1053.1,667.54 L1053.32,657.86 L1053.56,648.19 L1053.81,638.51 L1054.08,628.84 L1054.36,619.16 L1054.64,609.49 L1054.93,599.81 L1055.22,590.13 L1055.5,580.46 L1055.78,570.78 L1056.06,561.11 L1056.32,551.43 L1056.56,541.76 L1056.79,532.08 L1056.99,522.41 L1057.18,512.73 L1057.34,503.06 L1057.47,493.38 L1057.57,483.71 L1057.64,474.03 L1057.69,464.36 L1057.7,454.68 L1037.3,454.68 L1037.31,464.36 L1037.36,474.03 L1037.43,483.71 L1037.53,493.38 L1037.66,503.06 L1037.82,512.73 L1038.01,522.41 L1038.21,532.08 L1038.44,541.76 L1038.68,551.43 L1038.94,561.11 L1039.22,570.78 L1039.5,580.46 L1039.78,590.13 L1040.07,599.81 L1040.36,609.49 L1040.64,619.16 L1040.92,628.84 L1041.19,638.51 L1041.44,648.19 L1041.68,657.86 L1041.9,667.54 L1042.1,677.21 L1042.28,686.89 L1042.43,696.56 L1042.56,706.24 L1042.66,715.91 L1042.73,725.59 L1042.78,735.26 L1042.79,744.94 L1042.78,754.62 L1042.73,764.29 L1042.66,773.97 L1042.56,783.64 L1042.43,793.32 L1042.28,802.99 L1042.1,812.67 L1041.9,822.34 L1041.68,832.02 L1041.44,841.69 L1041.19,851.37 L1040.92,861.04 L1040.64,870.72 L1040.36,880.39 L1040.07,890.07 L1039.78,899.75 L1039.5,909.42 L1039.22,919.1 L1038.94,928.77 L1038.68,938.45 L1038.44,948.12 L1038.21,957.8 L1038.01,967.47 L1037.82,977.15 L1037.66,986.82 L1037.53,996.5 L1037.43,1006.17 L1037.36,1015.85 L1037.31,1025.52 L1037.3,1035.2 Z" fill="#7CAE00" fill-opacity="0.4" stroke="#7CAE00" stroke-width="2.3" stroke-linejoin="round"/>
<path d="M1047.5,1035.2 L1053.31,1035.2 L1052.24,1025.52 L1050.07,1015.85 L1048.43,1006.17 L1047.72,996.5 L1047.54,986.82 L1047.5,977.15 L1047.5,967.47 L1047.5,957.8 L1047.5,948.12 L1047.5,938.45 L1047.5,928.77 L1047.5,919.1 L1047.5,909.42 L1047.5,899.75 L1047.5,890.07 L1047.5,880.39 L1047.5,870.72 L1047.5,861.04 L1047.5,851.37 L1047.5,841.69 L1047.5,832.02 L1047.5,822.34 L1047.5,812.67 L1047.5,802.99 L1047.5,793.32 L1047.5,783.64 L1047.5,773.97 L1047.5,764.29 L1047.5,754.62 L1047.5,744.94 L1047.5,735.26 L1047.5,725.59 L1047.5,715.91 L1047.5,706.24 L1047.5,696.56 L1047.5,686.89 L1047.5,677.21 L1047.5,667.54 L1047.5,657.86 L1047.5,648.19 L1047.5,638.51 L1047.5,628.84 L1047.5,619.16 L1047.5,609.49 L1047.5,599.81 L1047.5,590.13 L1047.5,580.46 L1047.5,570.78 L1047.5,561.11 L1047.5,551.43 L1047.5,541.76 L1047.5,532.08 L1047.5,522.41 L1047.5,512.73 L1047.54,503.06 L1047.72,493.38 L1048.43,483.71 L1050.07,474.03 L1052.24,464.36 L1053.31,454.68 L1047.5,454.68 Z" fill="#7CAE00" fill-opacity="0.45"/>
<line x1="1047.5" x2="1047.5" y1="455.68" y2="1034.2" stroke="#7CAE00" stroke-opacity="0.7" stroke-width="3.6"/>
<line x1="1047.5" x2="1047.5" y1="553.37" y2="936.51" stroke="#7CAE00" stroke-opacity="0.55" stroke-width="6.5"/>
<circle cx="1047.5" cy="744.94" r="9" fill="#7CAE00"/>
<rect x="1039.7" y="599.81" width="15.6" height="290.26" fill="#7CAE00"/>
<path d="M1159.2,1211.88 L1159.17,1208.94 L1159.03,1205.99 L1158.79,1203.05 L1158.45,1200.1 L1158.02,1197.16 L1157.5,1194.21 L1156.89,1191.27 L1156.22,1188.32 L1155.47,1185.38 L1154.67,1182.43 L1153.81,1179.49 L1152.92,1176.54 L1152,1173.6 L1151.06,1170.65 L1150.11,1167.71 L1149.17,1164.77 L1148.24,1161.82 L1147.33,1158.88 L1146.45,1155.93 L1145.61,1152.99 L1144.83,1150.04 L1144.1,1147.1 L1143.44,1144.15 L1142.86,1141.21 L1142.35,1138.26 L1141.93,1135.32 L1141.6,1132.37 L1141.36,1129.43 L1141.22,1126.48 L1141.17,1123.54 L1141.22,1120.6 L1141.36,1117.65 L1141.6,1114.71 L1141.93,1111.76 L1142.35,1108.82 L1142.86,1105.87 L1143.44,1102.93 L1144.1,1099.98 L1144.83,1097.04 L1145.61,1094.09 L1146.45,1091.15 L1147.33,1088.2 L1148.24,1085.26 L1149.17,1082.31 L1150.11,1079.37 L1151.06,1076.43 L1152,1073.48 L1152.92,1070.54 L1153.81,1067.59 L1154.67,1064.65 L1155.47,1061.7 L1156.22,1058.76 L1156.89,1055.81 L1157.5,1052.87 L1158.02,1049.92 L1158.45,1046.98 L1158.79,1044.03 L1159.03,1041.09 L1159.17,1038.14 L1159.2,1035.2 L1092.2,1035.2 L1092.23,1038.14 L1092.37,1041.09 L1092.61,1044.03 L1092.95,1046.98 L1093.38,1049.92 L1093.9,1052.87 L1094.51,1055.81 L1095.18,1058.76 L1095.93,1061.7 L1096.73,1064.65 L1097.59,1067.59 L1098.48,1070.54 L1099.4,1073.48 L1100.34,1076.43 L1101.29,1079.37 L1102.23,1082.31 L1103.16,1085.26 L1104.07,1088.2 L1104.95,1091.15 L1105.79,1094.09 L1106.57,1097.04 L1107.3,1099.98 L1107.96,1102.93 L1108.54,1105.87 L1109.05,1108.82 L1109.47,1111.76 L1109.8,1114.71 L1110.04,1117.65 L1110.18,1120.6 L1110.23,1123.54 L1110.18,1126.48 L1110.04,1129.43 L1109.8,1132.37 L1109.47,1135.32 L1109.05,1138.26 L1108.54,1141.21 L1107.96,1144.15 L1107.3,1147.1 L1106.57,1150.04 L1105.79,1152.99 L1104.95,1155.93 L1104.07,1158.88 L1103.16,1161.82 L1102.23,1164.77 L1101.29,1167.71 L1100.34,1170.65 L1099.4,1173.6 L1098.48,1176.54 L1097.59,1179.49 L1096.73,1182.43 L1095.93,1185.38 L1095.18,1188.32 L1094.51,1191.27 L1093.9,1194.21 L1093.38,1197.16 L1092.95,1200.1 L1092.61,1203.05 L1092.37,1205.99 L1092.23,1208.94 L1092.2,1211.88 Z" fill="#00BFC4" fill-opacity="0.4" stroke="#00BFC4" stroke-width="2.3" stroke-linejoin="round"/>
<path d="M1125.7,1211.88 L1144.8,1211.88 L1144.44,1208.94 L1143.4,1205.99 L1141.81,1203.05 L1139.81,1200.1 L1137.6,1197.16 L1135.37,1194.21 L1133.26,1191.27 L1131.39,1188.32 L1129.83,1185.38 L1128.58,1182.43 L1127.64,1179.49 L1126.96,1176.54 L1126.48,1173.6 L1126.17,1170.65 L1125.97,1167.71 L1125.85,1164.77 L1125.78,1161.82 L1125.74,1158.88 L1125.72,1155.93 L1125.71,1152.99 L1125.7,1150.04 L1125.7,1147.1 L1125.7,1144.15 L1125.7,1141.21 L1125.7,1138.26 L1125.7,1135.32 L1125.7,1132.37 L1125.7,1129.43 L1125.7,1126.48 L1125.7,1123.54 L1125.7,1120.6 L1125.7,1117.65 L1125.7,1114.71 L1125.7,1111.76 L1125.7,1108.82 L1125.7,1105.87 L1125.7,1102.93 L1125.7,1099.98 L1125.7,1097.04 L1125.71,1094.09 L1125.72,1091.15 L1125.74,1088.2 L1125.78,1085.26 L1125.85,1082.31 L1125.97,1079.37 L1126.17,1076.43 L1126.48,1073.48 L1126.96,1070.54 L1127.64,1067.59 L1128.58,1064.65 L1129.83,1061.7 L1131.39,1058.76 L1133.26,1055.81 L1135.37,1052.87 L1137.6,1049.92 L1139.81,1046.98 L1141.81,1044.03 L1143.4,1041.09 L1144.44,1038.14 L1144.8,1035.2 L1125.7,1035.2 Z" fill="#00BFC4" fill-opacity="0.45"/>
<line x1="1125.7" x2="1125.7" y1="1036.2" y2="1210.88" stroke="#00BFC4" stroke-opacity="0.7" stroke-width="3.6"/>
<line x1="1125.7" x2="1125.7" y1="1065.24" y2="1181.84" stroke="#00BFC4" stroke-opacity="0.55" stroke-width="6.5"/>
<circle cx="1125.7" cy="1123.54" r="9" fill="#00BFC4"/>
<rect x="1117.9" y="1079.37" width="15.6" height="88.34" fill="#00BFC4"/>
<path d="M1243.03,1085.68 L1243.01,1078.11 L1242.96,1070.54 L1242.87,1062.96 L1242.74,1055.39 L1242.57,1047.82 L1242.37,1040.25 L1242.13,1032.68 L1241.87,1025.1 L1241.58,1017.53 L1241.26,1009.96 L1240.93,1002.39 L1240.59,994.82 L1240.23,987.24 L1239.86,979.67 L1239.49,972.1 L1239.13,964.53 L1238.76,956.96 L1238.41,949.38 L1238.07,941.81 L1237.74,934.24 L1237.44,926.67 L1237.16,919.1 L1236.9,911.52 L1236.67,903.95 L1236.48,896.38 L1236.31,888.81 L1236.18,881.24 L1236.09,873.66 L1236.03,866.09 L1236.02,858.52 L1236.03,850.95 L1236.09,843.38 L1236.18,835.8 L1236.31,828.23 L1236.48,820.66 L1236.67,813.09 L1236.9,805.52 L1237.16,797.94 L1237.44,790.37 L1237.74,782.8 L1238.07,775.23 L1238.41,767.66 L1238.76,760.08 L1239.13,752.51 L1239.49,744.94 L1239.86,737.37 L1240.23,729.8 L1240.59,722.22 L1240.93,714.65 L1241.26,707.08 L1241.58,699.51 L1241.87,691.94 L1242.13,684.36 L1242.37,676.79 L1242.57,669.22 L1242.74,661.65 L1242.87,654.08 L1242.96,646.5 L1243.01,638.93 L1243.03,631.36 L1216.97,631.36 L1216.99,638.93 L1217.04,646.5 L1217.13,654.08 L1217.26,661.65 L1217.43,669.22 L1217.63,676.79 L1217.87,684.36 L1218.13,691.94 L1218.42,699.51 L1218.74,707.08 L1219.07,714.65 L1219.41,722.22 L1219.77,729.8 L1220.14,737.37 L1220.51,744.94 L1220.87,752.51 L1221.24,760.08 L1221.59,767.66 L1221.93,775.23 L1222.26,782.8 L1222.56,790.37 L1222.84,797.94 L1223.1,805.52 L1223.33,813.09 L1223.52,820.66 L1223.69,828.23 L1223.82,835.8 L1223.91,843.38 L1223.97,850.95 L1223.98,858.52 L1223.97,866.09 L1223.91,873.66 L1223.82,881.24 L1223.69,888.81 L1223.52,896.38 L1223.33,903.95 L1223.1,911.52 L1222.84,919.1 L1222.56,926.67 L1222.26,934.24 L1221.93,941.81 L1221.59,949.38 L1221.24,956.96 L1220.87,964.53 L1220.51,972.1 L1220.14,979.67 L1219.77,987.24 L1219.41,994.82 L1219.07,1002.39 L1218.74,1009.96 L1218.42,1017.53 L1218.13,1025.1 L1217.87,1032.68 L1217.63,1040.25 L1217.43,1047.82 L1217.26,1055.39 L1217.13,1062.96 L1217.04,1070.54 L1216.99,1078.11 L1216.97,1085.68 Z" fill="#F8766D" fill-opacity="0.4" stroke="#F8766D" stroke-width="2.3" stroke-linejoin="round"/>
<path d="M1230,1085.68 L1237.43,1085.68 L1236.55,1078.11 L1234.5,1070.54 L1232.41,1062.96 L1231,1055.39 L1230.33,1047.82 L1230.08,1040.25 L1230.02,1032.68 L1230,1025.1 L1230,1017.53 L1230,1009.96 L1230,1002.39 L1230,994.82 L1230,987.24 L1230,979.67 L1230,972.1 L1230,964.53 L1230,956.96 L1230,949.38 L1230,941.81 L1230,934.24 L1230,926.67 L1230,919.1 L1230,911.52 L1230,903.95 L1230,896.38 L1230,888.81 L1230,881.24 L1230,873.66 L1230,866.09 L1230,858.52 L1230,850.95 L1230,843.38 L1230,835.8 L1230,828.23 L1230,820.66 L1230,813.09 L1230,805.52 L1230,797.94 L1230,790.37 L1230,782.8 L1230,775.23 L1230,767.66 L1230,760.08 L1230,752.51 L1230,744.94 L1230,737.37 L1230,729.8 L1230,722.22 L1230,714.65 L1230,707.08 L1230,699.51 L1230,691.94 L1230.02,684.36 L1230.08,676.79 L1230.33,669.22 L1231,661.65 L1232.41,654.08 L1234.5,646.5 L1236.55,638.93 L1237.43,631.36 L1230,631.36 Z" fill="#F8766D" fill-opacity="0.45"/>
<line x1="1230" x2="1230" y1="632.36" y2="1084.68" stroke="#F8766D" stroke-opacity="0.7" stroke-width="3.6"/>
<line x1="1230" x2="1230" y1="708.59" y2="1008.45" stroke="#F8766D" stroke-opacity="0.55" stroke-width="6.5"/>
<circle cx="1230" cy="858.52" r="9" fill="#F8766D"/>
<rect x="1222.2" y="744.94" width="15.6" height="227.16" fill="#F8766D"/>
<path d="M1323.83,1136.16 L1323.82,1129.85 L1323.75,1123.54 L1323.64,1117.23 L1323.48,1110.92 L1323.28,1104.61 L1323.04,1098.3 L1322.76,1091.99 L1322.44,1085.68 L1322.09,1079.37 L1321.72,1073.06 L1321.32,1066.75 L1320.9,1060.44 L1320.47,1054.13 L1320.04,1047.82 L1319.59,1041.51 L1319.15,1035.2 L1318.72,1028.89 L1318.29,1022.58 L1317.88,1016.27 L1317.49,1009.96 L1317.13,1003.65 L1316.79,997.34 L1316.48,991.03 L1316.21,984.72 L1315.97,978.41 L1315.78,972.1 L1315.62,965.79 L1315.51,959.48 L1315.44,953.17 L1315.42,946.86 L1315.44,940.55 L1315.51,934.24 L1315.62,927.93 L1315.78,921.62 L1315.97,915.31 L1316.21,909 L1316.48,902.69 L1316.79,896.38 L1317.13,890.07 L1317.49,883.76 L1317.88,877.45 L1318.29,871.14 L1318.72,864.83 L1319.15,858.52 L1319.59,852.21 L1320.04,845.9 L1320.47,839.59 L1320.9,833.28 L1321.32,826.97 L1321.72,820.66 L1322.09,814.35 L1322.44,808.04 L1322.76,801.73 L1323.04,795.42 L1323.28,789.11 L1323.48,782.8 L1323.64,776.49 L1323.75,770.18 L1323.82,763.87 L1323.83,757.56 L1292.57,757.56 L1292.58,763.87 L1292.65,770.18 L1292.76,776.49 L1292.92,782.8 L1293.12,789.11 L1293.36,795.42 L1293.64,801.73 L1293.96,808.04 L1294.31,814.35 L1294.68,820.66 L1295.08,826.97 L1295.5,833.28 L1295.93,839.59 L1296.36,845.9 L1296.81,852.21 L1297.25,858.52 L1297.68,864.83 L1298.11,871.14 L1298.52,877.45 L1298.91,883.76 L1299.27,890.07 L1299.61,896.38 L1299.92,902.69 L1300.19,909 L1300.43,915.31 L1300.62,921.62 L1300.78,927.93 L1300.89,934.24 L1300.96,940.55 L1300.98,946.86 L1300.96,953.17 L1300.89,959.48 L1300.78,965.79 L1300.62,972.1 L1300.43,978.41 L1300.19,984.72 L1299.92,991.03 L1299.61,997.34 L1299.27,1003.65 L1298.91,1009.96 L1298.52,1016.27 L1298.11,1022.58 L1297.68,1028.89 L1297.25,1035.2 L1296.81,1041.51 L1296.36,1047.82 L1295.93,1054.13 L1295.5,1060.44 L1295.08,1066.75 L1294.68,1073.06 L1294.31,1079.37 L1293.96,1085.68 L1293.64,1091.99 L1293.36,1098.3 L1293.12,1104.61 L1292.92,1110.92 L1292.76,1117.23 L1292.65,1123.54 L1292.58,1129.85 L1292.57,1136.16 Z" fill="#7CAE00" fill-opacity="0.4" stroke="#7CAE00" stroke-width="2.3" stroke-linejoin="round"/>
<path d="M1308.2,1136.16 L1317.11,1136.16 L1316.37,1129.85 L1314.5,1123.54 L1312.28,1117.23 L1310.42,1110.92 L1309.22,1104.61 L1308.59,1098.3 L1308.33,1091.99 L1308.23,1085.68 L1308.21,1079.37 L1308.2,1073.06 L1308.2,1066.75 L1308.2,1060.44 L1308.2,1054.13 L1308.2,1047.82 L1308.2,1041.51 L1308.2,1035.2 L1308.2,1028.89 L1308.2,1022.58 L1308.2,1016.27 L1308.2,1009.96 L1308.2,1003.65 L1308.2,997.34 L1308.2,991.03 L1308.2,984.72 L1308.2,978.41 L1308.2,972.1 L1308.2,965.79 L1308.2,959.48 L1308.2,953.17 L1308.2,946.86 L1308.2,940.55 L1308.2,934.24 L1308.2,927.93 L1308.2,921.62 L1308.2,915.31 L1308.2,909 L1308.2,902.69 L1308.2,896.38 L1308.2,890.07 L1308.2,883.76 L1308.2,877.45 L1308.2,871.14 L1308.2,864.83 L1308.2,858.52 L1308.2,852.21 L1308.2,845.9 L1308.2,839.59 L1308.2,833.28 L1308.2,826.97 L1308.2,820.66 L1308.21,814.35 L1308.23,808.04 L1308.33,801.73 L1308.59,795.42 L1309.22,789.11 L1310.42,782.8 L1312.28,776.49 L1314.5,770.18 L1316.37,763.87 L1317.11,757.56 L1308.2,757.56 Z" fill="#7CAE00" fill-opacity="0.45"/>
<line x1="1308.2" x2="1308.2" y1="758.56" y2="1135.16" stroke="#7CAE00" stroke-opacity="0.7" stroke-width="3.6"/>
<line x1="1308.2" x2="1308.2" y1="821.92" y2="1071.8" stroke="#7CAE00" stroke-opacity="0.55" stroke-width="6.5"/>
<circle cx="1308.2" cy="946.86" r="9" fill="#7CAE00"/>
<rect x="1300.4" y="852.21" width="15.6" height="189.3" fill="#7CAE00"/>
<path d="M1425.48,1262.36 L1425.44,1259.84 L1425.28,1257.31 L1425,1254.79 L1424.61,1252.26 L1424.1,1249.74 L1423.5,1247.22 L1422.79,1244.69 L1422,1242.17 L1421.13,1239.64 L1420.19,1237.12 L1419.2,1234.6 L1418.16,1232.07 L1417.08,1229.55 L1415.99,1227.02 L1414.88,1224.5 L1413.78,1221.98 L1412.69,1219.45 L1411.63,1216.93 L1410.61,1214.4 L1409.63,1211.88 L1408.72,1209.36 L1407.87,1206.83 L1407.1,1204.31 L1406.42,1201.78 L1405.83,1199.26 L1405.34,1196.74 L1404.95,1194.21 L1404.67,1191.69 L1404.5,1189.16 L1404.45,1186.64 L1404.5,1184.12 L1404.67,1181.59 L1404.95,1179.07 L1405.34,1176.54 L1405.83,1174.02 L1406.42,1171.5 L1407.1,1168.97 L1407.87,1166.45 L1408.72,1163.92 L1409.63,1161.4 L1410.61,1158.88 L1411.63,1156.35 L1412.69,1153.83 L1413.78,1151.3 L1414.88,1148.78 L1415.99,1146.26 L1417.08,1143.73 L1418.16,1141.21 L1419.2,1138.68 L1420.19,1136.16 L1421.13,1133.64 L1422,1131.11 L1422.79,1128.59 L1423.5,1126.06 L1424.1,1123.54 L1424.61,1121.02 L1425,1118.49 L1425.28,1115.97 L1425.44,1113.44 L1425.48,1110.92 L1347.32,1110.92 L1347.36,1113.44 L1347.52,1115.97 L1347.8,1118.49 L1348.19,1121.02 L1348.7,1123.54 L1349.3,1126.06 L1350.01,1128.59 L1350.8,1131.11 L1351.67,1133.64 L1352.61,1136.16 L1353.6,1138.68 L1354.64,1141.21 L1355.72,1143.73 L1356.81,1146.26 L1357.92,1148.78 L1359.02,1151.3 L1360.11,1153.83 L1361.17,1156.35 L1362.19,1158.88 L1363.17,1161.4 L1364.08,1163.92 L1364.93,1166.45 L1365.7,1168.97 L1366.38,1171.5 L1366.97,1174.02 L1367.46,1176.54 L1367.85,1179.07 L1368.13,1181.59 L1368.3,1184.12 L1368.35,1186.64 L1368.3,1189.16 L1368.13,1191.69 L1367.85,1194.21 L1367.46,1196.74 L1366.97,1199.26 L1366.38,1201.78 L1365.7,1204.31 L1364.93,1206.83 L1364.08,1209.36 L1363.17,1211.88 L1362.19,1214.4 L1361.17,1216.93 L1360.11,1219.45 L1359.02,1221.98 L1357.92,1224.5 L1356.81,1227.02 L1355.72,1229.55 L1354.64,1232.07 L1353.6,1234.6 L1352.61,1237.12 L1351.67,1239.64 L1350.8,1242.17 L1350.01,1244.69 L1349.3,1247.22 L1348.7,1249.74 L1348.19,1252.26 L1347.8,1254.79 L1347.52,1257.31 L1347.36,1259.84 L1347.32,1262.36 Z" fill="#00BFC4" fill-opacity="0.4" stroke="#00BFC4" stroke-width="2.3" stroke-linejoin="round"/>
<path d="M1386.4,1262.36 L1408.68,1262.36 L1408.37,1259.84 L1407.47,1257.31 L1406.06,1254.79 L1404.24,1252.26 L1402.14,1249.74 L1399.91,1247.22 L1397.68,1244.69 L1395.56,1242.17 L1393.63,1239.64 L1391.95,1237.12 L1390.55,1234.6 L1389.41,1232.07 L1388.53,1229.55 L1387.86,1227.02 L1387.38,1224.5 L1387.04,1221.98 L1386.8,1219.45 L1386.65,1216.93 L1386.55,1214.4 L1386.49,1211.88 L1386.45,1209.36 L1386.43,1206.83 L1386.41,1204.31 L1386.41,1201.78 L1386.4,1199.26 L1386.4,1196.74 L1386.4,1194.21 L1386.4,1191.69 L1386.4,1189.16 L1386.4,1186.64 L1386.4,1184.12 L1386.4,1181.59 L1386.4,1179.07 L1386.4,1176.54 L1386.4,1174.02 L1386.41,1171.5 L1386.41,1168.97 L1386.43,1166.45 L1386.45,1163.92 L1386.49,1161.4 L1386.55,1158.88 L1386.65,1156.35 L1386.8,1153.83 L1387.04,1151.3 L1387.38,1148.78 L1387.86,1146.26 L1388.53,1143.73 L1389.41,1141.21 L1390.55,1138.68 L1391.95,1136.16 L1393.63,1133.64 L1395.56,1131.11 L1397.68,1128.59 L1399.91,1126.06 L1402.14,1123.54 L1404.24,1121.02 L1406.06,1118.49 L1407.47,1115.97 L1408.37,1113.44 L1408.68,1110.92 L1386.4,1110.92 Z" fill="#00BFC4" fill-opacity="0.45"/>
<line x1="1386.4" x2="1386.4" y1="1111.92" y2="1261.36" stroke="#00BFC4" stroke-opacity="0.7" stroke-width="3.6"/>
<line x1="1386.4" x2="1386.4" y1="1136.66" y2="1236.62" stroke="#00BFC4" stroke-opacity="0.55" stroke-width="6.5"/>
<circle cx="1386.4" cy="1186.64" r="9" fill="#00BFC4"/>
<rect x="1378.6" y="1148.78" width="15.6" height="75.72" fill="#00BFC4"/>
<path d="M1505.36,1110.92 L1505.34,1104.19 L1505.28,1097.46 L1505.18,1090.73 L1505.03,1084 L1504.84,1077.27 L1504.61,1070.54 L1504.35,1063.81 L1504.05,1057.07 L1503.72,1050.34 L1503.37,1043.61 L1503,1036.88 L1502.61,1030.15 L1502.21,1023.42 L1501.8,1016.69 L1501.38,1009.96 L1500.97,1003.23 L1500.56,996.5 L1500.16,989.77 L1499.78,983.04 L1499.41,976.31 L1499.07,969.58 L1498.75,962.85 L1498.46,956.11 L1498.21,949.38 L1497.99,942.65 L1497.8,935.92 L1497.66,929.19 L1497.55,922.46 L1497.49,915.73 L1497.47,909 L1497.49,902.27 L1497.55,895.54 L1497.66,888.81 L1497.8,882.08 L1497.99,875.35 L1498.21,868.62 L1498.46,861.89 L1498.75,855.15 L1499.07,848.42 L1499.41,841.69 L1499.78,834.96 L1500.16,828.23 L1500.56,821.5 L1500.97,814.77 L1501.38,808.04 L1501.8,801.31 L1502.21,794.58 L1502.61,787.85 L1503,781.12 L1503.37,774.39 L1503.72,767.66 L1504.05,760.93 L1504.35,754.19 L1504.61,747.46 L1504.84,740.73 L1505.03,734 L1505.18,727.27 L1505.28,720.54 L1505.34,713.81 L1505.36,707.08 L1476.04,707.08 L1476.06,713.81 L1476.12,720.54 L1476.22,727.27 L1476.37,734 L1476.56,740.73 L1476.79,747.46 L1477.05,754.19 L1477.35,760.93 L1477.68,767.66 L1478.03,774.39 L1478.4,781.12 L1478.79,787.85 L1479.19,794.58 L1479.6,801.31 L1480.02,808.04 L1480.43,814.77 L1480.84,821.5 L1481.24,828.23 L1481.62,834.96 L1481.99,841.69 L1482.33,848.42 L1482.65,855.15 L1482.94,861.89 L1483.19,868.62 L1483.41,875.35 L1483.6,882.08 L1483.74,888.81 L1483.85,895.54 L1483.91,902.27 L1483.93,909 L1483.91,915.73 L1483.85,922.46 L1483.74,929.19 L1483.6,935.92 L1483.41,942.65 L1483.19,949.38 L1482.94,956.11 L1482.65,962.85 L1482.33,969.58 L1481.99,976.31 L1481.62,983.04 L1481.24,989.77 L1480.84,996.5 L1480.43,1003.23 L1480.02,1009.96 L1479.6,1016.69 L1479.19,1023.42 L1478.79,1030.15 L1478.4,1036.88 L1478.03,1043.61 L1477.68,1050.34 L1477.35,1057.07 L1477.05,1063.81 L1476.79,1070.54 L1476.56,1077.27 L1476.37,1084 L1476.22,1090.73 L1476.12,1097.46 L1476.06,1104.19 L1476.04,1110.92 Z" fill="#F8766D" fill-opacity="0.4" stroke="#F8766D" stroke-width="2.3" stroke-linejoin="round"/>
<path d="M1490.7,1110.92 L1499.05,1110.92 L1498.27,1104.19 L1496.33,1097.46 L1494.13,1090.73 L1492.42,1084 L1491.41,1077.27 L1490.94,1070.54 L1490.77,1063.81 L1490.72,1057.07 L1490.7,1050.34 L1490.7,1043.61 L1490.7,1036.88 L1490.7,1030.15 L1490.7,1023.42 L1490.7,1016.69 L1490.7,1009.96 L1490.7,1003.23 L1490.7,996.5 L1490.7,989.77 L1490.7,983.04 L1490.7,976.31 L1490.7,969.58 L1490.7,962.85 L1490.7,956.11 L1490.7,949.38 L1490.7,942.65 L1490.7,935.92 L1490.7,929.19 L1490.7,922.46 L1490.7,915.73 L1490.7,909 L1490.7,902.27 L1490.7,895.54 L1490.7,888.81 L1490.7,882.08 L1490.7,875.35 L1490.7,868.62 L1490.7,861.89 L1490.7,855.15 L1490.7,848.42 L1490.7,841.69 L1490.7,834.96 L1490.7,828.23 L1490.7,821.5 L1490.7,814.77 L1490.7,808.04 L1490.7,801.31 L1490.7,794.58 L1490.7,787.85 L1490.7,781.12 L1490.7,774.39 L1490.7,767.66 L1490.72,760.93 L1490.77,754.19 L1490.94,747.46 L1491.41,740.73 L1492.42,734 L1494.13,727.27 L1496.33,720.54 L1498.27,713.81 L1499.05,707.08 L1490.7,707.08 Z" fill="#F8766D" fill-opacity="0.45"/>
<line x1="1490.7" x2="1490.7" y1="708.08" y2="1109.92" stroke="#F8766D" stroke-opacity="0.7" stroke-width="3.6"/>
<line x1="1490.7" x2="1490.7" y1="775.73" y2="1042.27" stroke="#F8766D" stroke-opacity="0.55" stroke-width="6.5"/>
<circle cx="1490.7" cy="909" r="9" fill="#F8766D"/>
<rect x="1482.9" y="808.04" width="15.6" height="201.92" fill="#F8766D"/>
<path d="M1586.94,1161.4 L1586.92,1155.93 L1586.85,1150.46 L1586.72,1144.99 L1586.53,1139.53 L1586.3,1134.06 L1586.02,1128.59 L1585.7,1123.12 L1585.33,1117.65 L1584.93,1112.18 L1584.5,1106.71 L1584.04,1101.24 L1583.56,1095.78 L1583.06,1090.31 L1582.56,1084.84 L1582.05,1079.37 L1581.54,1073.9 L1581.03,1068.43 L1580.54,1062.96 L1580.07,1057.5 L1579.62,1052.03 L1579.2,1046.56 L1578.81,1041.09 L1578.45,1035.62 L1578.14,1030.15 L1577.87,1024.68 L1577.64,1019.21 L1577.46,1013.75 L1577.33,1008.28 L1577.26,1002.81 L1577.23,997.34 L1577.26,991.87 L1577.33,986.4 L1577.46,980.93 L1577.64,975.47 L1577.87,970 L1578.14,964.53 L1578.45,959.06 L1578.81,953.59 L1579.2,948.12 L1579.62,942.65 L1580.07,937.18 L1580.54,931.72 L1581.03,926.25 L1581.54,920.78 L1582.05,915.31 L1582.56,909.84 L1583.06,904.37 L1583.56,898.9 L1584.04,893.44 L1584.5,887.97 L1584.93,882.5 L1585.33,877.03 L1585.7,871.56 L1586.02,866.09 L1586.3,860.62 L1586.53,855.15 L1586.72,849.69 L1586.85,844.22 L1586.92,838.75 L1586.94,833.28 L1550.86,833.28 L1550.88,838.75 L1550.95,844.22 L1551.08,849.69 L1551.27,855.15 L1551.5,860.62 L1551.78,866.09 L1552.1,871.56 L1552.47,877.03 L1552.87,882.5 L1553.3,887.97 L1553.76,893.44 L1554.24,898.9 L1554.74,904.37 L1555.24,909.84 L1555.75,915.31 L1556.26,920.78 L1556.77,926.25 L1557.26,931.72 L1557.73,937.18 L1558.18,942.65 L1558.6,948.12 L1558.99,953.59 L1559.35,959.06 L1559.66,964.53 L1559.93,970 L1560.16,975.47 L1560.34,980.93 L1560.47,986.4 L1560.54,991.87 L1560.57,997.34 L1560.54,1002.81 L1560.47,1008.28 L1560.34,1013.75 L1560.16,1019.21 L1559.93,1024.68 L1559.66,1030.15 L1559.35,1035.62 L1558.99,1041.09 L1558.6,1046.56 L1558.18,1052.03 L1557.73,1057.5 L1557.26,1062.96 L1556.77,1068.43 L1556.26,1073.9 L1555.75,1079.37 L1555.24,1084.84 L1554.74,1090.31 L1554.24,1095.78 L1553.76,1101.24 L1553.3,1106.71 L1552.87,1112.18 L1552.47,1117.65 L1552.1,1123.12 L1551.78,1128.59 L1551.5,1134.06 L1551.27,1139.53 L1551.08,1144.99 L1550.95,1150.46 L1550.88,1155.93 L1550.86,1161.4 Z" fill="#7CAE00" fill-opacity="0.4" stroke="#7CAE00" stroke-width="2.3" stroke-linejoin="round"/>
<path d="M1568.9,1161.4 L1579.18,1161.4 L1578.53,1155.93 L1576.82,1150.46 L1574.62,1144.99 L1572.52,1139.53 L1570.91,1134.06 L1569.88,1128.59 L1569.32,1123.12 L1569.06,1117.65 L1568.95,1112.18 L1568.92,1106.71 L1568.9,1101.24 L1568.9,1095.78 L1568.9,1090.31 L1568.9,1084.84 L1568.9,1079.37 L1568.9,1073.9 L1568.9,1068.43 L1568.9,1062.96 L1568.9,1057.5 L1568.9,1052.03 L1568.9,1046.56 L1568.9,1041.09 L1568.9,1035.62 L1568.9,1030.15 L1568.9,1024.68 L1568.9,1019.21 L1568.9,1013.75 L1568.9,1008.28 L1568.9,1002.81 L1568.9,997.34 L1568.9,991.87 L1568.9,986.4 L1568.9,980.93 L1568.9,975.47 L1568.9,970 L1568.9,964.53 L1568.9,959.06 L1568.9,953.59 L1568.9,948.12 L1568.9,942.65 L1568.9,937.18 L1568.9,931.72 L1568.9,926.25 L1568.9,920.78 L1568.9,915.31 L1568.9,909.84 L1568.9,904.37 L1568.9,898.9 L1568.9,893.44 L1568.92,887.97 L1568.95,882.5 L1569.06,877.03 L1569.32,871.56 L1569.88,866.09 L1570.91,860.62 L1572.52,855.15 L1574.62,849.69 L1576.82,844.22 L1578.53,838.75 L1579.18,833.28 L1568.9,833.28 Z" fill="#7CAE00" fill-opacity="0.45"/>
<line x1="1568.9" x2="1568.9" y1="834.28" y2="1160.4" stroke="#7CAE00" stroke-opacity="0.7" stroke-width="3.6"/>
<line x1="1568.9" x2="1568.9" y1="889.06" y2="1105.62" stroke="#7CAE00" stroke-opacity="0.55" stroke-width="6.5"/>
<circle cx="1568.9" cy="997.34" r="9" fill="#7CAE00"/>
<rect x="1561.1" y="915.31" width="15.6" height="164.06" fill="#7CAE00"/>
<path d="M1686.18,1287.6 L1686.14,1285.08 L1685.98,1282.55 L1685.7,1280.03 L1685.31,1277.5 L1684.8,1274.98 L1684.2,1272.46 L1683.49,1269.93 L1682.7,1267.41 L1681.83,1264.88 L1680.89,1262.36 L1679.9,1259.84 L1678.86,1257.31 L1677.78,1254.79 L1676.69,1252.26 L1675.58,1249.74 L1674.48,1247.22 L1673.39,1244.69 L1672.33,1242.17 L1671.31,1239.64 L1670.33,1237.12 L1669.42,1234.6 L1668.57,1232.07 L1667.8,1229.55 L1667.12,1227.02 L1666.53,1224.5 L1666.04,1221.98 L1665.65,1219.45 L1665.37,1216.93 L1665.2,1214.4 L1665.15,1211.88 L1665.2,1209.36 L1665.37,1206.83 L1665.65,1204.31 L1666.04,1201.78 L1666.53,1199.26 L1667.12,1196.74 L1667.8,1194.21 L1668.57,1191.69 L1669.42,1189.16 L1670.33,1186.64 L1671.31,1184.12 L1672.33,1181.59 L1673.39,1179.07 L1674.48,1176.54 L1675.58,1174.02 L1676.69,1171.5 L1677.78,1168.97 L1678.86,1166.45 L1679.9,1163.92 L1680.89,1161.4 L1681.83,1158.88 L1682.7,1156.35 L1683.49,1153.83 L1684.2,1151.3 L1684.8,1148.78 L1685.31,1146.26 L1685.7,1143.73 L1685.98,1141.21 L1686.14,1138.68 L1686.18,1136.16 L1608.02,1136.16 L1608.06,1138.68 L1608.22,1141.21 L1608.5,1143.73 L1608.89,1146.26 L1609.4,1148.78 L1610,1151.3 L1610.71,1153.83 L1611.5,1156.35 L1612.37,1158.88 L1613.31,1161.4 L1614.3,1163.92 L1615.34,1166.45 L1616.42,1168.97 L1617.51,1171.5 L1618.62,1174.02 L1619.72,1176.54 L1620.81,1179.07 L1621.87,1181.59 L1622.89,1184.12 L1623.87,1186.64 L1624.78,1189.16 L1625.63,1191.69 L1626.4,1194.21 L1627.08,1196.74 L1627.67,1199.26 L1628.16,1201.78 L1628.55,1204.31 L1628.83,1206.83 L1629,1209.36 L1629.05,1211.88 L1629,1214.4 L1628.83,1216.93 L1628.55,1219.45 L1628.16,1221.98 L1627.67,1224.5 L1627.08,1227.02 L1626.4,1229.55 L1625.63,1232.07 L1624.78,1234.6 L1623.87,1237.12 L1622.89,1239.64 L1621.87,1242.17 L1620.81,1244.69 L1619.72,1247.22 L1618.62,1249.74 L1617.51,1252.26 L1616.42,1254.79 L1615.34,1257.31 L1614.3,1259.84 L1613.31,1262.36 L1612.37,1264.88 L1611.5,1267.41 L1610.71,1269.93 L1610,1272.46 L1609.4,1274.98 L1608.89,1277.5 L1608.5,1280.03 L1608.22,1282.55 L1608.06,1285.08 L1608.02,1287.6 Z" fill="#00BFC4" fill-opacity="0.4" stroke="#00BFC4" stroke-width="2.3" stroke-linejoin="round"/>
<path d="M1647.1,1287.6 L1669.38,1287.6 L1669.07,1285.08 L1668.17,1282.55 L1666.76,1280.03 L1664.94,1277.5 L1662.84,1274.98 L1660.61,1272.46 L1658.38,1269.93 L1656.26,1267.41 L1654.33,1264.88 L1652.65,1262.36 L1651.25,1259.84 L1650.11,1257.31 L1649.23,1254.79 L1648.56,1252.26 L1648.08,1249.74 L1647.74,1247.22 L1647.5,1244.69 L1647.35,1242.17 L1647.25,1239.64 L1647.19,1237.12 L1647.15,1234.6 L1647.13,1232.07 L1647.11,1229.55 L1647.11,1227.02 L1647.1,1224.5 L1647.1,1221.98 L1647.1,1219.45 L1647.1,1216.93 L1647.1,1214.4 L1647.1,1211.88 L1647.1,1209.36 L1647.1,1206.83 L1647.1,1204.31 L1647.1,1201.78 L1647.1,1199.26 L1647.11,1196.74 L1647.11,1194.21 L1647.13,1191.69 L1647.15,1189.16 L1647.19,1186.64 L1647.25,1184.12 L1647.35,1181.59 L1647.5,1179.07 L1647.74,1176.54 L1648.08,1174.02 L1648.56,1171.5 L1649.23,1168.97 L1650.11,1166.45 L1651.25,1163.92 L1652.65,1161.4 L1654.33,1158.88 L1656.26,1156.35 L1658.38,1153.83 L1660.61,1151.3 L1662.84,1148.78 L1664.94,1146.26 L1666.76,1143.73 L1668.17,1141.21 L1669.07,1138.68 L1669.38,1136.16 L1647.1,1136.16 Z" fill="#00BFC4" fill-opacity="0.45"/>
<line x1="1647.1" x2="1647.1" y1="1137.16" y2="1286.6" stroke="#00BFC4" stroke-opacity="0.7" stroke-width="3.6"/>
<line x1="1647.1" x2="1647.1" y1="1161.9" y2="1261.86" stroke="#00BFC4" stroke-opacity="0.55" stroke-width="6.5"/>
<circle cx="1647.1" cy="1211.88" r="9" fill="#00BFC4"/>
<rect x="1639.3" y="1174.02" width="15.6" height="75.72" fill="#00BFC4"/>
<path d="M1762.57,984.72 L1762.56,975.89 L1762.51,967.05 L1762.43,958.22 L1762.32,949.38 L1762.17,940.55 L1762,931.72 L1761.8,922.88 L1761.57,914.05 L1761.32,905.21 L1761.06,896.38 L1760.77,887.55 L1760.47,878.71 L1760.17,869.88 L1759.85,861.04 L1759.54,852.21 L1759.22,843.38 L1758.91,834.54 L1758.61,825.71 L1758.32,816.87 L1758.04,808.04 L1757.78,799.21 L1757.53,790.37 L1757.31,781.54 L1757.12,772.7 L1756.95,763.87 L1756.81,755.04 L1756.7,746.2 L1756.62,737.37 L1756.57,728.53 L1756.56,719.7 L1756.57,710.87 L1756.62,702.03 L1756.7,693.2 L1756.81,684.36 L1756.95,675.53 L1757.12,666.7 L1757.31,657.86 L1757.53,649.03 L1757.78,640.19 L1758.04,631.36 L1758.32,622.53 L1758.61,613.69 L1758.91,604.86 L1759.22,596.02 L1759.54,587.19 L1759.85,578.36 L1760.17,569.52 L1760.47,560.69 L1760.77,551.85 L1761.06,543.02 L1761.32,534.19 L1761.57,525.35 L1761.8,516.52 L1762,507.68 L1762.17,498.85 L1762.32,490.02 L1762.43,481.18 L1762.51,472.35 L1762.56,463.51 L1762.57,454.68 L1740.23,454.68 L1740.24,463.51 L1740.29,472.35 L1740.37,481.18 L1740.48,490.02 L1740.63,498.85 L1740.8,507.68 L1741,516.52 L1741.23,525.35 L1741.48,534.19 L1741.74,543.02 L1742.03,551.85 L1742.33,560.69 L1742.63,569.52 L1742.95,578.36 L1743.26,587.19 L1743.58,596.02 L1743.89,604.86 L1744.19,613.69 L1744.48,622.53 L1744.76,631.36 L1745.02,640.19 L1745.27,649.03 L1745.49,657.86 L1745.68,666.7 L1745.85,675.53 L1745.99,684.36 L1746.1,693.2 L1746.18,702.03 L1746.23,710.87 L1746.24,719.7 L1746.23,728.53 L1746.18,737.37 L1746.1,746.2 L1745.99,755.04 L1745.85,763.87 L1745.68,772.7 L1745.49,781.54 L1745.27,790.37 L1745.02,799.21 L1744.76,808.04 L1744.48,816.87 L1744.19,825.71 L1743.89,834.54 L1743.58,843.38 L1743.26,852.21 L1742.95,861.04 L1742.63,869.88 L1742.33,878.71 L1742.03,887.55 L1741.74,896.38 L1741.48,905.21 L1741.23,914.05 L1741,922.88 L1740.8,931.72 L1740.63,940.55 L1740.48,949.38 L1740.37,958.22 L1740.29,967.05 L1740.24,975.89 L1740.23,984.72 Z" fill="#F8766D" fill-opacity="0.4" stroke="#F8766D" stroke-width="2.3" stroke-linejoin="round"/>
<path d="M1751.4,984.72 L1757.76,984.72 L1756.77,975.89 L1754.62,967.05 L1752.78,958.22 L1751.82,949.38 L1751.49,940.55 L1751.41,931.72 L1751.4,922.88 L1751.4,914.05 L1751.4,905.21 L1751.4,896.38 L1751.4,887.55 L1751.4,878.71 L1751.4,869.88 L1751.4,861.04 L1751.4,852.21 L1751.4,843.38 L1751.4,834.54 L1751.4,825.71 L1751.4,816.87 L1751.4,808.04 L1751.4,799.21 L1751.4,790.37 L1751.4,781.54 L1751.4,772.7 L1751.4,763.87 L1751.4,755.04 L1751.4,746.2 L1751.4,737.37 L1751.4,728.53 L1751.4,719.7 L1751.4,710.87 L1751.4,702.03 L1751.4,693.2 L1751.4,684.36 L1751.4,675.53 L1751.4,666.7 L1751.4,657.86 L1751.4,649.03 L1751.4,640.19 L1751.4,631.36 L1751.4,622.53 L1751.4,613.69 L1751.4,604.86 L1751.4,596.02 L1751.4,587.19 L1751.4,578.36 L1751.4,569.52 L1751.4,560.69 L1751.4,551.85 L1751.4,543.02 L1751.4,534.19 L1751.4,525.35 L1751.4,516.52 L1751.41,507.68 L1751.49,498.85 L1751.82,490.02 L1752.78,481.18 L1754.62,472.35 L1756.77,463.51 L1757.76,454.68 L1751.4,454.68 Z" fill="#F8766D" fill-opacity="0.45"/>
<line x1="1751.4" x2="1751.4" y1="455.68" y2="983.72" stroke="#F8766D" stroke-opacity="0.7" stroke-width="3.6"/>
<line x1="1751.4" x2="1751.4" y1="544.79" y2="894.61" stroke="#F8766D" stroke-opacity="0.55" stroke-width="6.5"/>
<circle cx="1751.4" cy="719.7" r="9" fill="#F8766D"/>
<rect x="1743.6" y="587.19" width="15.6" height="265.02" fill="#F8766D"/>
<path d="M1843.39,1060.44 L1843.38,1053.29 L1843.32,1046.14 L1843.22,1038.99 L1843.09,1031.83 L1842.91,1024.68 L1842.69,1017.53 L1842.44,1010.38 L1842.17,1003.23 L1841.86,996.08 L1841.53,988.93 L1841.18,981.78 L1840.81,974.62 L1840.43,967.47 L1840.04,960.32 L1839.65,953.17 L1839.26,946.02 L1838.88,938.87 L1838.5,931.72 L1838.14,924.56 L1837.8,917.41 L1837.48,910.26 L1837.18,903.11 L1836.91,895.96 L1836.67,888.81 L1836.46,881.66 L1836.28,874.51 L1836.15,867.35 L1836.05,860.2 L1835.99,853.05 L1835.97,845.9 L1835.99,838.75 L1836.05,831.6 L1836.15,824.45 L1836.28,817.29 L1836.46,810.14 L1836.67,802.99 L1836.91,795.84 L1837.18,788.69 L1837.48,781.54 L1837.8,774.39 L1838.14,767.24 L1838.5,760.08 L1838.88,752.93 L1839.26,745.78 L1839.65,738.63 L1840.04,731.48 L1840.43,724.33 L1840.81,717.18 L1841.18,710.02 L1841.53,702.87 L1841.86,695.72 L1842.17,688.57 L1842.44,681.42 L1842.69,674.27 L1842.91,667.12 L1843.09,659.97 L1843.22,652.81 L1843.32,645.66 L1843.38,638.51 L1843.39,631.36 L1815.81,631.36 L1815.82,638.51 L1815.88,645.66 L1815.98,652.81 L1816.11,659.97 L1816.29,667.12 L1816.51,674.27 L1816.76,681.42 L1817.03,688.57 L1817.34,695.72 L1817.67,702.87 L1818.02,710.02 L1818.39,717.18 L1818.77,724.33 L1819.16,731.48 L1819.55,738.63 L1819.94,745.78 L1820.32,752.93 L1820.7,760.08 L1821.06,767.24 L1821.4,774.39 L1821.72,781.54 L1822.02,788.69 L1822.29,795.84 L1822.53,802.99 L1822.74,810.14 L1822.92,817.29 L1823.05,824.45 L1823.15,831.6 L1823.21,838.75 L1823.23,845.9 L1823.21,853.05 L1823.15,860.2 L1823.05,867.35 L1822.92,874.51 L1822.74,881.66 L1822.53,888.81 L1822.29,895.96 L1822.02,903.11 L1821.72,910.26 L1821.4,917.41 L1821.06,924.56 L1820.7,931.72 L1820.32,938.87 L1819.94,946.02 L1819.55,953.17 L1819.16,960.32 L1818.77,967.47 L1818.39,974.62 L1818.02,981.78 L1817.67,988.93 L1817.34,996.08 L1817.03,1003.23 L1816.76,1010.38 L1816.51,1017.53 L1816.29,1024.68 L1816.11,1031.83 L1815.98,1038.99 L1815.88,1046.14 L1815.82,1053.29 L1815.81,1060.44 Z" fill="#7CAE00" fill-opacity="0.4" stroke="#7CAE00" stroke-width="2.3" stroke-linejoin="round"/>
<path d="M1829.6,1060.44 L1837.46,1060.44 L1836.63,1053.29 L1834.63,1046.14 L1832.48,1038.99 L1830.92,1031.83 L1830.08,1024.68 L1829.74,1017.53 L1829.63,1010.38 L1829.61,1003.23 L1829.6,996.08 L1829.6,988.93 L1829.6,981.78 L1829.6,974.62 L1829.6,967.47 L1829.6,960.32 L1829.6,953.17 L1829.6,946.02 L1829.6,938.87 L1829.6,931.72 L1829.6,924.56 L1829.6,917.41 L1829.6,910.26 L1829.6,903.11 L1829.6,895.96 L1829.6,888.81 L1829.6,881.66 L1829.6,874.51 L1829.6,867.35 L1829.6,860.2 L1829.6,853.05 L1829.6,845.9 L1829.6,838.75 L1829.6,831.6 L1829.6,824.45 L1829.6,817.29 L1829.6,810.14 L1829.6,802.99 L1829.6,795.84 L1829.6,788.69 L1829.6,781.54 L1829.6,774.39 L1829.6,767.24 L1829.6,760.08 L1829.6,752.93 L1829.6,745.78 L1829.6,738.63 L1829.6,731.48 L1829.6,724.33 L1829.6,717.18 L1829.6,710.02 L1829.6,702.87 L1829.6,695.72 L1829.61,688.57 L1829.63,681.42 L1829.74,674.27 L1830.08,667.12 L1830.92,659.97 L1832.48,652.81 L1834.63,645.66 L1836.63,638.51 L1837.46,631.36 L1829.6,631.36 Z" fill="#7CAE00" fill-opacity="0.45"/>
<line x1="1829.6" x2="1829.6" y1="632.36" y2="1059.44" stroke="#7CAE00" stroke-opacity="0.7" stroke-width="3.6"/>
<line x1="1829.6" x2="1829.6" y1="704.3" y2="987.5" stroke="#7CAE00" stroke-opacity="0.55" stroke-width="6.5"/>
<circle cx="1829.6" cy="845.9" r="9" fill="#7CAE00"/>
<rect x="1821.8" y="738.63" width="15.6" height="214.54" fill="#7CAE00"/>
<path d="M1924.55,1136.16 L1924.53,1130.27 L1924.46,1124.38 L1924.34,1118.49 L1924.18,1112.6 L1923.96,1106.71 L1923.7,1100.82 L1923.4,1094.93 L1923.06,1089.05 L1922.68,1083.16 L1922.28,1077.27 L1921.86,1071.38 L1921.41,1065.49 L1920.95,1059.6 L1920.48,1053.71 L1920.01,1047.82 L1919.53,1041.93 L1919.07,1036.04 L1918.61,1030.15 L1918.17,1024.26 L1917.76,1018.37 L1917.36,1012.48 L1917,1006.59 L1916.67,1000.71 L1916.38,994.82 L1916.13,988.93 L1915.92,983.04 L1915.75,977.15 L1915.63,971.26 L1915.56,965.37 L1915.53,959.48 L1915.56,953.59 L1915.63,947.7 L1915.75,941.81 L1915.92,935.92 L1916.13,930.03 L1916.38,924.14 L1916.67,918.25 L1917,912.37 L1917.36,906.48 L1917.76,900.59 L1918.17,894.7 L1918.61,888.81 L1919.07,882.92 L1919.53,877.03 L1920.01,871.14 L1920.48,865.25 L1920.95,859.36 L1921.41,853.47 L1921.86,847.58 L1922.28,841.69 L1922.68,835.8 L1923.06,829.91 L1923.4,824.03 L1923.7,818.14 L1923.96,812.25 L1924.18,806.36 L1924.34,800.47 L1924.46,794.58 L1924.53,788.69 L1924.55,782.8 L1891.05,782.8 L1891.07,788.69 L1891.14,794.58 L1891.26,800.47 L1891.42,806.36 L1891.64,812.25 L1891.9,818.14 L1892.2,824.03 L1892.54,829.91 L1892.92,835.8 L1893.32,841.69 L1893.74,847.58 L1894.19,853.47 L1894.65,859.36 L1895.12,865.25 L1895.59,871.14 L1896.07,877.03 L1896.53,882.92 L1896.99,888.81 L1897.43,894.7 L1897.84,900.59 L1898.24,906.48 L1898.6,912.37 L1898.93,918.25 L1899.22,924.14 L1899.47,930.03 L1899.68,935.92 L1899.85,941.81 L1899.97,947.7 L1900.04,953.59 L1900.07,959.48 L1900.04,965.37 L1899.97,971.26 L1899.85,977.15 L1899.68,983.04 L1899.47,988.93 L1899.22,994.82 L1898.93,1000.71 L1898.6,1006.59 L1898.24,1012.48 L1897.84,1018.37 L1897.43,1024.26 L1896.99,1030.15 L1896.53,1036.04 L1896.07,1041.93 L1895.59,1047.82 L1895.12,1053.71 L1894.65,1059.6 L1894.19,1065.49 L1893.74,1071.38 L1893.32,1077.27 L1892.92,1083.16 L1892.54,1089.05 L1892.2,1094.93 L1891.9,1100.82 L1891.64,1106.71 L1891.42,1112.6 L1891.26,1118.49 L1891.14,1124.38 L1891.07,1130.27 L1891.05,1136.16 Z" fill="#00BFC4" fill-opacity="0.4" stroke="#00BFC4" stroke-width="2.3" stroke-linejoin="round"/>
<path d="M1907.8,1136.16 L1917.35,1136.16 L1916.65,1130.27 L1914.86,1124.38 L1912.63,1118.49 L1910.65,1112.6 L1909.24,1106.71 L1908.43,1100.82 L1908.03,1094.93 L1907.88,1089.05 L1907.82,1083.16 L1907.8,1077.27 L1907.8,1071.38 L1907.8,1065.49 L1907.8,1059.6 L1907.8,1053.71 L1907.8,1047.82 L1907.8,1041.93 L1907.8,1036.04 L1907.8,1030.15 L1907.8,1024.26 L1907.8,1018.37 L1907.8,1012.48 L1907.8,1006.59 L1907.8,1000.71 L1907.8,994.82 L1907.8,988.93 L1907.8,983.04 L1907.8,977.15 L1907.8,971.26 L1907.8,965.37 L1907.8,959.48 L1907.8,953.59 L1907.8,947.7 L1907.8,941.81 L1907.8,935.92 L1907.8,930.03 L1907.8,924.14 L1907.8,918.25 L1907.8,912.37 L1907.8,906.48 L1907.8,900.59 L1907.8,894.7 L1907.8,888.81 L1907.8,882.92 L1907.8,877.03 L1907.8,871.14 L1907.8,865.25 L1907.8,859.36 L1907.8,853.47 L1907.8,847.58 L1907.8,841.69 L1907.82,835.8 L1907.88,829.91 L1908.03,824.03 L1908.43,818.14 L1909.24,812.25 L1910.65,806.36 L1912.63,800.47 L1914.86,794.58 L1916.65,788.69 L1917.35,782.8 L1907.8,782.8 Z" fill="#00BFC4" fill-opacity="0.45"/>
<line x1="1907.8" x2="1907.8" y1="783.8" y2="1135.16" stroke="#00BFC4" stroke-opacity="0.7" stroke-width="3.6"/>
<line x1="1907.8" x2="1907.8" y1="842.87" y2="1076.09" stroke="#00BFC4" stroke-opacity="0.55" stroke-width="6.5"/>
<circle cx="1907.8" cy="959.48" r="9" fill="#00BFC4"/>
<rect x="1900" y="871.14" width="15.6" height="176.68" fill="#00BFC4"/>
<path d="M2137.2,1085.68 L2137.15,1079.37 L2136.96,1073.06 L2136.62,1066.75 L2136.15,1060.44 L2135.55,1054.13 L2134.82,1047.82 L2133.97,1041.51 L2133.02,1035.2 L2131.98,1028.89 L2130.85,1022.58 L2129.66,1016.27 L2128.41,1009.96 L2127.12,1003.65 L2125.81,997.34 L2124.48,991.03 L2123.16,984.72 L2121.85,978.41 L2120.58,972.1 L2119.35,965.79 L2118.18,959.48 L2117.08,953.17 L2116.06,946.86 L2115.14,940.55 L2114.32,934.24 L2113.62,927.93 L2113.03,921.62 L2112.56,915.31 L2112.23,909 L2112.02,902.69 L2111.96,896.38 L2112.02,890.07 L2112.23,883.76 L2112.56,877.45 L2113.03,871.14 L2113.62,864.83 L2114.32,858.52 L2115.14,852.21 L2116.06,845.9 L2117.08,839.59 L2118.18,833.28 L2119.35,826.97 L2120.58,820.66 L2121.85,814.35 L2123.16,808.04 L2124.48,801.73 L2125.81,795.42 L2127.12,789.11 L2128.41,782.8 L2129.66,776.49 L2130.85,770.18 L2131.98,763.87 L2133.02,757.56 L2133.97,751.25 L2134.82,744.94 L2135.55,738.63 L2136.15,732.32 L2136.62,726.01 L2136.96,719.7 L2137.15,713.39 L2137.2,707.08 L2043.4,707.08 L2043.45,713.39 L2043.64,719.7 L2043.98,726.01 L2044.45,732.32 L2045.05,738.63 L2045.78,744.94 L2046.63,751.25 L2047.58,757.56 L2048.62,763.87 L2049.75,770.18 L2050.94,776.49 L2052.19,782.8 L2053.48,789.11 L2054.79,795.42 L2056.12,801.73 L2057.44,808.04 L2058.75,814.35 L2060.02,820.66 L2061.25,826.97 L2062.42,833.28 L2063.52,839.59 L2064.54,845.9 L2065.46,852.21 L2066.28,858.52 L2066.98,864.83 L2067.57,871.14 L2068.04,877.45 L2068.37,883.76 L2068.58,890.07 L2068.64,896.38 L2068.58,902.69 L2068.37,909 L2068.04,915.31 L2067.57,921.62 L2066.98,927.93 L2066.28,934.24 L2065.46,940.55 L2064.54,946.86 L2063.52,953.17 L2062.42,959.48 L2061.25,965.79 L2060.02,972.1 L2058.75,978.41 L2057.44,984.72 L2056.12,991.03 L2054.79,997.34 L2053.48,1003.65 L2052.19,1009.96 L2050.94,1016.27 L2049.75,1022.58 L2048.62,1028.89 L2047.58,1035.2 L2046.63,1041.51 L2045.78,1047.82 L2045.05,1054.13 L2044.45,1060.44 L2043.98,1066.75 L2043.64,1073.06 L2043.45,1079.37 L2043.4,1085.68 Z" fill="#C77CFF" fill-opacity="0.4" stroke="#C77CFF" stroke-width="2.3" stroke-linejoin="round"/>
<path d="M2090.3,1085.68 L2099.8,1085.68 L2099.6,1079.37 L2099.01,1073.06 L2098.11,1066.75 L2097.01,1060.44 L2095.82,1054.13 L2094.65,1047.82 L2093.58,1041.51 L2092.67,1035.2 L2091.94,1028.89 L2091.38,1022.58 L2090.99,1016.27 L2090.72,1009.96 L2090.54,1003.65 L2090.44,997.34 L2090.37,991.03 L2090.34,984.72 L2090.32,978.41 L2090.31,972.1 L2090.3,965.79 L2090.3,959.48 L2090.3,953.17 L2090.3,946.86 L2090.3,940.55 L2090.3,934.24 L2090.3,927.93 L2090.3,921.62 L2090.3,915.31 L2090.3,909 L2090.3,902.69 L2090.3,896.38 L2090.3,890.07 L2090.3,883.76 L2090.3,877.45 L2090.3,871.14 L2090.3,864.83 L2090.3,858.52 L2090.3,852.21 L2090.3,845.9 L2090.3,839.59 L2090.3,833.28 L2090.3,826.97 L2090.31,820.66 L2090.32,814.35 L2090.34,808.04 L2090.37,801.73 L2090.44,795.42 L2090.54,789.11 L2090.72,782.8 L2090.99,776.49 L2091.38,770.18 L2091.94,763.87 L2092.67,757.56 L2093.58,751.25 L2094.65,744.94 L2095.82,738.63 L2097.01,732.32 L2098.11,726.01 L2099.01,719.7 L2099.6,713.39 L2099.8,707.08 L2090.3,707.08 Z" fill="#C77CFF" fill-opacity="0.45"/>
<line x1="2090.3" x2="2090.3" y1="708.08" y2="1084.68" stroke="#C77CFF" stroke-opacity="0.7" stroke-width="3.6"/>
<line x1="2090.3" x2="2090.3" y1="771.44" y2="1021.32" stroke="#C77CFF" stroke-opacity="0.55" stroke-width="6.5"/>
<circle cx="2090.3" cy="896.38" r="9" fill="#C77CFF"/>
<rect x="2069.3" y="801.73" width="42" height="189.3" fill="#C77CFF"/>
<path d="M178.55,1020.06 H195.85 M187.2,1020.06 V1050.34 M178.55,1050.34 H195.85" stroke="#000" stroke-width="2.5" fill="none"/>
<path d="M178.55,1176.54 H195.85 M187.2,1176.54 V1247.22 M178.55,1247.22 H195.85" stroke="#000" stroke-width="2.5" fill="none"/>
<path d="M256.75,1095.78 H274.05 M265.4,1095.78 V1126.06 M256.75,1126.06 H274.05" stroke="#000" stroke-width="2.5" fill="none"/>
<path d="M256.75,722.22 H274.05 M265.4,722.22 V792.9 M256.75,792.9 H274.05" stroke="#000" stroke-width="2.5" fill="none"/>
<path d="M334.95,1196.74 H352.25 M343.6,1196.74 V1227.02 M334.95,1227.02 H352.25" stroke="#000" stroke-width="2.5" fill="none"/>
<path d="M334.95,949.38 H352.25 M343.6,949.38 V1020.06 M334.95,1020.06 H352.25" stroke="#000" stroke-width="2.5" fill="none"/>
<path d="M439.25,868.62 H456.55 M447.9,868.62 V898.9 M439.25,898.9 H456.55" stroke="#000" stroke-width="2.5" fill="none"/>
<path d="M439.25,65.98 H456.55 M447.9,65.98 V136.66 M439.25,136.66 H456.55" stroke="#000" stroke-width="2.5" fill="none"/>
<path d="M517.45,994.82 H534.75 M526.1,994.82 V1025.1 M517.45,1025.1 H534.75" stroke="#000" stroke-width="2.5" fill="none"/>
<path d="M517.45,343.62 H534.75 M526.1,343.62 V414.3 M517.45,414.3 H534.75" stroke="#000" stroke-width="2.5" fill="none"/>
<path d="M595.65,1146.26 H612.95 M604.3,1146.26 V1176.54 M595.65,1176.54 H612.95" stroke="#000" stroke-width="2.5" fill="none"/>
<path d="M595.65,898.9 H612.95 M604.3,898.9 V969.58 M595.65,969.58 H612.95" stroke="#000" stroke-width="2.5" fill="none"/>
<path d="M699.95,868.62 H717.25 M708.6,868.62 V898.9 M699.95,898.9 H717.25" stroke="#000" stroke-width="2.5" fill="none"/>
<path d="M699.95,141.7 H717.25 M708.6,141.7 V212.38 M699.95,212.38 H717.25" stroke="#000" stroke-width="2.5" fill="none"/>
<path d="M778.15,994.82 H795.45 M786.8,994.82 V1025.1 M778.15,1025.1 H795.45" stroke="#000" stroke-width="2.5" fill="none"/>
<path d="M778.15,368.86 H795.45 M786.8,368.86 V439.54 M778.15,439.54 H795.45" stroke="#000" stroke-width="2.5" fill="none"/>
<path d="M856.35,1171.5 H873.65 M865,1171.5 V1201.78 M856.35,1201.78 H873.65" stroke="#000" stroke-width="2.5" fill="none"/>
<path d="M856.35,898.9 H873.65 M865,898.9 V969.58 M856.35,969.58 H873.65" stroke="#000" stroke-width="2.5" fill="none"/>
<path d="M960.65,919.1 H977.95 M969.3,919.1 V949.38 M960.65,949.38 H977.95" stroke="#000" stroke-width="2.5" fill="none"/>
<path d="M960.65,217.42 H977.95 M969.3,217.42 V288.1 M960.65,288.1 H977.95" stroke="#000" stroke-width="2.5" fill="none"/>
<path d="M1038.85,1020.06 H1056.15 M1047.5,1020.06 V1050.34 M1038.85,1050.34 H1056.15" stroke="#000" stroke-width="2.5" fill="none"/>
<path d="M1038.85,419.34 H1056.15 M1047.5,419.34 V490.02 M1038.85,490.02 H1056.15" stroke="#000" stroke-width="2.5" fill="none"/>
<path d="M1117.05,1196.74 H1134.35 M1125.7,1196.74 V1227.02 M1117.05,1227.02 H1134.35" stroke="#000" stroke-width="2.5" fill="none"/>
<path d="M1117.05,999.86 H1134.35 M1125.7,999.86 V1070.54 M1117.05,1070.54 H1134.35" stroke="#000" stroke-width="2.5" fill="none"/>
<path d="M1221.35,1070.54 H1238.65 M1230,1070.54 V1100.82 M1221.35,1100.82 H1238.65" stroke="#000" stroke-width="2.5" fill="none"/>
<path d="M1221.35,596.02 H1238.65 M1230,596.02 V666.7 M1221.35,666.7 H1238.65" stroke="#000" stroke-width="2.5" fill="none"/>
<path d="M1299.55,1121.02 H1316.85 M1308.2,1121.02 V1151.3 M1299.55,1151.3 H1316.85" stroke="#000" stroke-width="2.5" fill="none"/>
<path d="M1299.55,722.22 H1316.85 M1308.2,722.22 V792.9 M1299.55,792.9 H1316.85" stroke="#000" stroke-width="2.5" fill="none"/>
<path d="M1377.75,1247.22 H1395.05 M1386.4,1247.22 V1277.5 M1377.75,1277.5 H1395.05" stroke="#000" stroke-width="2.5" fill="none"/>
<path d="M1377.75,1075.58 H1395.05 M1386.4,1075.58 V1146.26 M1377.75,1146.26 H1395.05" stroke="#000" stroke-width="2.5" fill="none"/>
<path d="M1482.05,1095.78 H1499.35 M1490.7,1095.78 V1126.06 M1482.05,1126.06 H1499.35" stroke="#000" stroke-width="2.5" fill="none"/>
<path d="M1482.05,671.74 H1499.35 M1490.7,671.74 V742.42 M1482.05,742.42 H1499.35" stroke="#000" stroke-width="2.5" fill="none"/>
<path d="M1560.25,1146.26 H1577.55 M1568.9,1146.26 V1176.54 M1560.25,1176.54 H1577.55" stroke="#000" stroke-width="2.5" fill="none"/>
<path d="M1560.25,797.94 H1577.55 M1568.9,797.94 V868.62 M1560.25,868.62 H1577.55" stroke="#000" stroke-width="2.5" fill="none"/>
<path d="M1638.45,1272.46 H1655.75 M1647.1,1272.46 V1302.74 M1638.45,1302.74 H1655.75" stroke="#000" stroke-width="2.5" fill="none"/>
<path d="M1638.45,1100.82 H1655.75 M1647.1,1100.82 V1171.5 M1638.45,1171.5 H1655.75" stroke="#000" stroke-width="2.5" fill="none"/>
<path d="M1742.75,969.58 H1760.05 M1751.4,969.58 V999.86 M1742.75,999.86 H1760.05" stroke="#000" stroke-width="2.5" fill="none"/>
<path d="M1742.75,419.34 H1760.05 M1751.4,419.34 V490.02 M1742.75,490.02 H1760.05" stroke="#000" stroke-width="2.5" fill="none"/>
<path d="M1820.95,1045.3 H1838.25 M1829.6,1045.3 V1075.58 M1820.95,1075.58 H1838.25" stroke="#000" stroke-width="2.5" fill="none"/>
<path d="M1820.95,596.02 H1838.25 M1829.6,596.02 V666.7 M1820.95,666.7 H1838.25" stroke="#000" stroke-width="2.5" fill="none"/>
<path d="M1899.15,1121.02 H1916.45 M1907.8,1121.02 V1151.3 M1899.15,1151.3 H1916.45" stroke="#000" stroke-width="2.5" fill="none"/>
<path d="M1899.15,747.46 H1916.45 M1907.8,747.46 V818.14 M1899.15,818.14 H1916.45" stroke="#000" stroke-width="2.5" fill="none"/>
<path d="M2064.65,1070.54 H2115.95 M2090.3,1070.54 V1100.82 M2064.65,1100.82 H2115.95" stroke="#000" stroke-width="2.5" fill="none"/>
<path d="M2064.65,671.74 H2115.95 M2090.3,671.74 V742.42 M2064.65,742.42 H2115.95" stroke="#000" stroke-width="2.5" fill="none"/>
<circle cx="167.65" cy="1035.2" r="7.4" fill="#F8766D" fill-opacity="0.85"/>
<path d="M284.95,1200.48 L294.85,1217.58 L275.05,1217.58 Z" fill="#F8766D" fill-opacity="0.85"/>
<circle cx="206.75" cy="1110.92" r="7.4" fill="#7CAE00" fill-opacity="0.85"/>
<path d="M324.05,746.16 L333.95,763.26 L314.15,763.26 Z" fill="#7CAE00" fill-opacity="0.85"/>
<circle cx="245.85" cy="1211.88" r="7.4" fill="#00BFC4" fill-opacity="0.85"/>
<path d="M363.15,973.32 L373.05,990.42 L353.25,990.42 Z" fill="#00BFC4" fill-opacity="0.85"/>
<circle cx="428.35" cy="883.76" r="7.4" fill="#F8766D" fill-opacity="0.85"/>
<path d="M545.65,89.92 L555.55,107.02 L535.75,107.02 Z" fill="#F8766D" fill-opacity="0.85"/>
<circle cx="467.45" cy="1009.96" r="7.4" fill="#7CAE00" fill-opacity="0.85"/>
<path d="M584.75,367.56 L594.65,384.66 L574.85,384.66 Z" fill="#7CAE00" fill-opacity="0.85"/>
<circle cx="506.55" cy="1161.4" r="7.4" fill="#00BFC4" fill-opacity="0.85"/>
<path d="M623.85,922.84 L633.75,939.94 L613.95,939.94 Z" fill="#00BFC4" fill-opacity="0.85"/>
<circle cx="689.05" cy="883.76" r="7.4" fill="#F8766D" fill-opacity="0.85"/>
<path d="M806.35,165.64 L816.25,182.74 L796.45,182.74 Z" fill="#F8766D" fill-opacity="0.85"/>
<circle cx="728.15" cy="1009.96" r="7.4" fill="#7CAE00" fill-opacity="0.85"/>
<path d="M845.45,392.8 L855.35,409.9 L835.55,409.9 Z" fill="#7CAE00" fill-opacity="0.85"/>
<circle cx="767.25" cy="1186.64" r="7.4" fill="#00BFC4" fill-opacity="0.85"/>
<path d="M884.55,922.84 L894.45,939.94 L874.65,939.94 Z" fill="#00BFC4" fill-opacity="0.85"/>
<circle cx="949.75" cy="934.24" r="7.4" fill="#F8766D" fill-opacity="0.85"/>
<path d="M1067.05,241.36 L1076.95,258.46 L1057.15,258.46 Z" fill="#F8766D" fill-opacity="0.85"/>
<circle cx="988.85" cy="1035.2" r="7.4" fill="#7CAE00" fill-opacity="0.85"/>
<path d="M1106.15,443.28 L1116.05,460.38 L1096.25,460.38 Z" fill="#7CAE00" fill-opacity="0.85"/>
<circle cx="1027.95" cy="1211.88" r="7.4" fill="#00BFC4" fill-opacity="0.85"/>
<path d="M1145.25,1023.8 L1155.15,1040.9 L1135.35,1040.9 Z" fill="#00BFC4" fill-opacity="0.85"/>
<circle cx="1210.45" cy="1085.68" r="7.4" fill="#F8766D" fill-opacity="0.85"/>
<path d="M1327.75,619.96 L1337.65,637.06 L1317.85,637.06 Z" fill="#F8766D" fill-opacity="0.85"/>
<circle cx="1249.55" cy="1136.16" r="7.4" fill="#7CAE00" fill-opacity="0.85"/>
<path d="M1366.85,746.16 L1376.75,763.26 L1356.95,763.26 Z" fill="#7CAE00" fill-opacity="0.85"/>
<circle cx="1288.65" cy="1262.36" r="7.4" fill="#00BFC4" fill-opacity="0.85"/>
<path d="M1405.95,1099.52 L1415.85,1116.62 L1396.05,1116.62 Z" fill="#00BFC4" fill-opacity="0.85"/>
<circle cx="1471.15" cy="1110.92" r="7.4" fill="#F8766D" fill-opacity="0.85"/>
<path d="M1588.45,695.68 L1598.35,712.78 L1578.55,712.78 Z" fill="#F8766D" fill-opacity="0.85"/>
<circle cx="1510.25" cy="1161.4" r="7.4" fill="#7CAE00" fill-opacity="0.85"/>
<path d="M1627.55,821.88 L1637.45,838.98 L1617.65,838.98 Z" fill="#7CAE00" fill-opacity="0.85"/>
<circle cx="1549.35" cy="1287.6" r="7.4" fill="#00BFC4" fill-opacity="0.85"/>
<path d="M1666.65,1124.76 L1676.55,1141.86 L1656.75,1141.86 Z" fill="#00BFC4" fill-opacity="0.85"/>
<circle cx="1731.85" cy="984.72" r="7.4" fill="#F8766D" fill-opacity="0.85"/>
<path d="M1849.15,443.28 L1859.05,460.38 L1839.25,460.38 Z" fill="#F8766D" fill-opacity="0.85"/>
<circle cx="1770.95" cy="1060.44" r="7.4" fill="#7CAE00" fill-opacity="0.85"/>
<path d="M1888.25,619.96 L1898.15,637.06 L1878.35,637.06 Z" fill="#7CAE00" fill-opacity="0.85"/>
<circle cx="1810.05" cy="1136.16" r="7.4" fill="#00BFC4" fill-opacity="0.85"/>
<path d="M1927.35,771.4 L1937.25,788.5 L1917.45,788.5 Z" fill="#00BFC4" fill-opacity="0.85"/>
<circle cx="2031.65" cy="1085.68" r="7.4" fill="#C77CFF" fill-opacity="0.85"/>
<path d="M2148.95,695.68 L2158.85,712.78 L2139.05,712.78 Z" fill="#C77CFF" fill-opacity="0.85"/>
<text x="97" y="1296.2" font-family="Liberation Serif, Times New Roman, serif" font-weight="bold" font-size="25.3" text-anchor="end">0.0</text>
<text x="97" y="1043.8" font-family="Liberation Serif, Times New Roman, serif" font-weight="bold" font-size="25.3" text-anchor="end">0.1</text>
<text x="97" y="791.4" font-family="Liberation Serif, Times New Roman, serif" font-weight="bold" font-size="25.3" text-anchor="end">0.2</text>
<text x="97" y="539" font-family="Liberation Serif, Times New Roman, serif" font-weight="bold" font-size="25.3" text-anchor="end">0.3</text>
<text x="97" y="286.6" font-family="Liberation Serif, Times New Roman, serif" font-weight="bold" font-size="25.3" text-anchor="end">0.4</text>
<text x="97" y="34.2" font-family="Liberation Serif, Times New Roman, serif" font-weight="bold" font-size="25.3" text-anchor="end">0.5</text>
<text transform="translate(277.4,1306.6) rotate(-45)" x="0" y="0" font-family="Liberation Serif, Times New Roman, serif" font-weight="bold" font-size="25.3" text-anchor="end" dominant-baseline="hanging">14 DAS</text>
<text transform="translate(538.1,1306.6) rotate(-45)" x="0" y="0" font-family="Liberation Serif, Times New Roman, serif" font-weight="bold" font-size="25.3" text-anchor="end" dominant-baseline="hanging">21 DAS</text>
<text transform="translate(798.8,1306.6) rotate(-45)" x="0" y="0" font-family="Liberation Serif, Times New Roman, serif" font-weight="bold" font-size="25.3" text-anchor="end" dominant-baseline="hanging">28 DAS</text>
<text transform="translate(1059.5,1306.6) rotate(-45)" x="0" y="0" font-family="Liberation Serif, Times New Roman, serif" font-weight="bold" font-size="25.3" text-anchor="end" dominant-baseline="hanging">35 DAS</text>
<text transform="translate(1320.2,1306.6) rotate(-45)" x="0" y="0" font-family="Liberation Serif, Times New Roman, serif" font-weight="bold" font-size="25.3" text-anchor="end" dominant-baseline="hanging">42 DAS</text>
<text transform="translate(1580.9,1306.6) rotate(-45)" x="0" y="0" font-family="Liberation Serif, Times New Roman, serif" font-weight="bold" font-size="25.3" text-anchor="end" dominant-baseline="hanging">49 DAS</text>
<text transform="translate(1841.6,1306.6) rotate(-45)" x="0" y="0" font-family="Liberation Serif, Times New Roman, serif" font-weight="bold" font-size="25.3" text-anchor="end" dominant-baseline="hanging">DS</text>
<text transform="translate(2102.3,1306.6) rotate(-45)" x="0" y="0" font-family="Liberation Serif, Times New Roman, serif" font-weight="bold" font-size="25.3" text-anchor="end" dominant-baseline="hanging">Average</text>
<text x="1177.5" y="1455.2" font-family="Liberation Serif, Times New Roman, serif" font-weight="bold" font-size="39.7" text-anchor="middle">Age of Seedling (DAS)</text>
<text transform="translate(39.6,684.3) rotate(-90)" x="0" y="0" font-family="Liberation Serif, Times New Roman, serif" font-weight="bold" font-size="39.9" text-anchor="middle">Economic Water Productivity (USD m<tspan dy="-16.8" font-size="27" font-weight="normal" stroke="#000" stroke-width="0.5">−</tspan><tspan font-size="27" font-weight="normal">3</tspan><tspan dy="16.8"> )</tspan></text>
<text x="2289" y="511.3" font-family="Liberation Serif, Times New Roman, serif" font-weight="bold" font-size="29.8">Year</text>
<circle cx="2308.8" cy="549.5" r="12.6" fill="none" stroke="#333333" stroke-width="4"/>
<path d="M2309,572.8 L2326.2,602.5 L2291.8,602.5 Z" fill="none" stroke="#333333" stroke-width="4" stroke-linejoin="round"/>
<text x="2344" y="558" font-family="Liberation Serif, Times New Roman, serif" font-size="25">2013−14</text>
<text x="2344" y="600.5" font-family="Liberation Serif, Times New Roman, serif" font-size="25">2014−15</text>
<text x="2289" y="692.9" font-family="Liberation Serif, Times New Roman, serif" font-weight="bold" font-size="29.8">Genotype</text>
<rect x="2289.2" y="710.9" width="39.7" height="39.4" fill="#F8766D" fill-opacity="0.7" stroke="#F8766D" stroke-width="2.2"/>
<rect x="2292" y="719" width="33.9" height="23.8" fill="#F8766D"/>
<line x1="2309" x2="2309" y1="713.5" y2="747.6" stroke="#F8766D" stroke-width="3"/>
<text x="2344" y="738.4" font-family="Liberation Serif, Times New Roman, serif" font-size="25">ICPH2740</text>
<rect x="2289.2" y="754" width="39.7" height="39.4" fill="#7CAE00" fill-opacity="0.7" stroke="#7CAE00" stroke-width="2.2"/>
<rect x="2292" y="762.1" width="33.9" height="23.8" fill="#7CAE00"/>
<line x1="2309" x2="2309" y1="756.6" y2="790.7" stroke="#7CAE00" stroke-width="3"/>
<text x="2344" y="781.5" font-family="Liberation Serif, Times New Roman, serif" font-size="25">Maruti</text>
<rect x="2289.2" y="797.1" width="39.7" height="39.4" fill="#00BFC4" fill-opacity="0.7" stroke="#00BFC4" stroke-width="2.2"/>
<rect x="2292" y="805.2" width="33.9" height="23.8" fill="#00BFC4"/>
<line x1="2309" x2="2309" y1="799.7" y2="833.8" stroke="#00BFC4" stroke-width="3"/>
<text x="2344" y="824.6" font-family="Liberation Serif, Times New Roman, serif" font-size="25">TS3R</text>
<rect x="2289.2" y="840.2" width="39.7" height="39.4" fill="#C77CFF" fill-opacity="0.7" stroke="#C77CFF" stroke-width="2.2"/>
<rect x="2292" y="848.3" width="33.9" height="23.8" fill="#C77CFF"/>
<line x1="2309" x2="2309" y1="842.8" y2="876.9" stroke="#C77CFF" stroke-width="3"/>
<text x="2344" y="867.7" font-family="Liberation Serif, Times New Roman, serif" font-size="25">All Genotypes</text>
<text x="2374.5" y="971.7" font-family="Liberation Serif, Times New Roman, serif" font-weight="bold" font-size="22.5" text-anchor="middle">DS = Direct Seeding</text>
<text x="2374.5" y="1004" font-family="Liberation Serif, Times New Roman, serif" font-weight="bold" font-size="22.5" text-anchor="middle">Error bars indicate ± S.E.</text>
</svg>
</body></html>
